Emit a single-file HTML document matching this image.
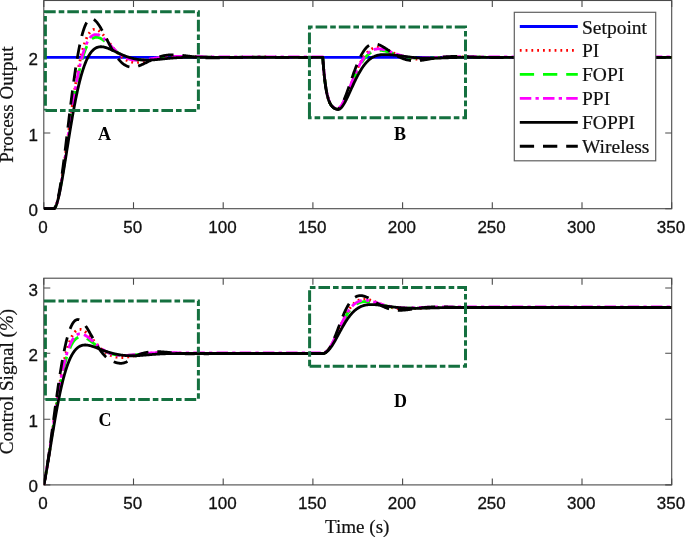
<!DOCTYPE html>
<html><head><meta charset="utf-8"><style>html,body{margin:0;padding:0;background:#fff}svg{display:block;will-change:transform}</style></head><body><svg width="685" height="537" viewBox="0 0 685 537">
<rect width="685" height="537" fill="#fff"/>
<style>.tk{font-family:"Liberation Sans",sans-serif;font-size:17px;fill:#111;stroke:#111;stroke-width:0.3px}.lb{font-family:"Liberation Serif",serif;font-size:19.1px;fill:#111;stroke:#111;stroke-width:0.2px}.lg{font-family:"Liberation Serif",serif;font-size:19.5px;fill:#111;stroke:#111;stroke-width:0.2px}.bb{font-family:"Liberation Serif",serif;font-size:18px;font-weight:bold;fill:#000}</style>
<rect x="43.8" y="0.5" width="627.9000000000001" height="208.2" fill="none" stroke="#4a4a4a" stroke-width="1.1"/>
<path d="M43.80,208.7 v-6.5 M43.80,0.5 v6.5" stroke="#4a4a4a" stroke-width="1.1" fill="none"/>
<text x="43.10" y="233.0" class="tk" text-anchor="middle">0</text>
<path d="M133.50,208.7 v-6.5 M133.50,0.5 v6.5" stroke="#4a4a4a" stroke-width="1.1" fill="none"/>
<text x="132.80" y="233.0" class="tk" text-anchor="middle">50</text>
<path d="M223.20,208.7 v-6.5 M223.20,0.5 v6.5" stroke="#4a4a4a" stroke-width="1.1" fill="none"/>
<text x="222.50" y="233.0" class="tk" text-anchor="middle">100</text>
<path d="M312.90,208.7 v-6.5 M312.90,0.5 v6.5" stroke="#4a4a4a" stroke-width="1.1" fill="none"/>
<text x="312.20" y="233.0" class="tk" text-anchor="middle">150</text>
<path d="M402.60,208.7 v-6.5 M402.60,0.5 v6.5" stroke="#4a4a4a" stroke-width="1.1" fill="none"/>
<text x="401.90" y="233.0" class="tk" text-anchor="middle">200</text>
<path d="M492.30,208.7 v-6.5 M492.30,0.5 v6.5" stroke="#4a4a4a" stroke-width="1.1" fill="none"/>
<text x="491.60" y="233.0" class="tk" text-anchor="middle">250</text>
<path d="M582.00,208.7 v-6.5 M582.00,0.5 v6.5" stroke="#4a4a4a" stroke-width="1.1" fill="none"/>
<text x="581.30" y="233.0" class="tk" text-anchor="middle">300</text>
<path d="M671.70,208.7 v-6.5 M671.70,0.5 v6.5" stroke="#4a4a4a" stroke-width="1.1" fill="none"/>
<text x="671.00" y="233.0" class="tk" text-anchor="middle">350</text>
<path d="M43.8,208.70 h6.5 M671.7,208.70 h-6.5" stroke="#4a4a4a" stroke-width="1.1" fill="none"/>
<text x="38.0" y="216.2" class="tk" text-anchor="end">0</text>
<path d="M43.8,133.00 h6.5 M671.7,133.00 h-6.5" stroke="#4a4a4a" stroke-width="1.1" fill="none"/>
<text x="38.0" y="140.5" class="tk" text-anchor="end">1</text>
<path d="M43.8,57.30 h6.5 M671.7,57.30 h-6.5" stroke="#4a4a4a" stroke-width="1.1" fill="none"/>
<text x="38.0" y="64.8" class="tk" text-anchor="end">2</text>
<rect x="43.8" y="278.2" width="627.9000000000001" height="206.7" fill="none" stroke="#4a4a4a" stroke-width="1.1"/>
<path d="M43.80,484.9 v-6.5 M43.80,278.2 v6.5" stroke="#4a4a4a" stroke-width="1.1" fill="none"/>
<text x="43.10" y="509.2" class="tk" text-anchor="middle">0</text>
<path d="M133.50,484.9 v-6.5 M133.50,278.2 v6.5" stroke="#4a4a4a" stroke-width="1.1" fill="none"/>
<text x="132.80" y="509.2" class="tk" text-anchor="middle">50</text>
<path d="M223.20,484.9 v-6.5 M223.20,278.2 v6.5" stroke="#4a4a4a" stroke-width="1.1" fill="none"/>
<text x="222.50" y="509.2" class="tk" text-anchor="middle">100</text>
<path d="M312.90,484.9 v-6.5 M312.90,278.2 v6.5" stroke="#4a4a4a" stroke-width="1.1" fill="none"/>
<text x="312.20" y="509.2" class="tk" text-anchor="middle">150</text>
<path d="M402.60,484.9 v-6.5 M402.60,278.2 v6.5" stroke="#4a4a4a" stroke-width="1.1" fill="none"/>
<text x="401.90" y="509.2" class="tk" text-anchor="middle">200</text>
<path d="M492.30,484.9 v-6.5 M492.30,278.2 v6.5" stroke="#4a4a4a" stroke-width="1.1" fill="none"/>
<text x="491.60" y="509.2" class="tk" text-anchor="middle">250</text>
<path d="M582.00,484.9 v-6.5 M582.00,278.2 v6.5" stroke="#4a4a4a" stroke-width="1.1" fill="none"/>
<text x="581.30" y="509.2" class="tk" text-anchor="middle">300</text>
<path d="M671.70,484.9 v-6.5 M671.70,278.2 v6.5" stroke="#4a4a4a" stroke-width="1.1" fill="none"/>
<text x="671.00" y="509.2" class="tk" text-anchor="middle">350</text>
<path d="M43.8,484.90 h6.5 M671.7,484.90 h-6.5" stroke="#4a4a4a" stroke-width="1.1" fill="none"/>
<text x="38.0" y="492.4" class="tk" text-anchor="end">0</text>
<path d="M43.8,419.20 h6.5 M671.7,419.20 h-6.5" stroke="#4a4a4a" stroke-width="1.1" fill="none"/>
<text x="38.0" y="426.7" class="tk" text-anchor="end">1</text>
<path d="M43.8,353.20 h6.5 M671.7,353.20 h-6.5" stroke="#4a4a4a" stroke-width="1.1" fill="none"/>
<text x="38.0" y="360.7" class="tk" text-anchor="end">2</text>
<path d="M43.8,288.00 h6.5 M671.7,288.00 h-6.5" stroke="#4a4a4a" stroke-width="1.1" fill="none"/>
<text x="38.0" y="295.5" class="tk" text-anchor="end">3</text>
<clipPath id="c1"><rect x="43.8" y="0.5" width="627.9000000000001" height="209.7"/></clipPath>
<clipPath id="c2"><rect x="43.8" y="278.2" width="627.9000000000001" height="208.2"/></clipPath>
<g clip-path="url(#c1)" fill="none" stroke-linejoin="round">
<path d="M43.80,57.30 H671.70" stroke="#0000ff" stroke-width="2.8"/>
<path d="M43.80,208.70 L44.25,208.70 L44.70,208.70 L45.15,208.70 L45.59,208.70 L46.04,208.70 L46.49,208.70 L46.94,208.70 L47.39,208.70 L47.84,208.70 L48.28,208.70 L48.73,208.70 L49.18,208.70 L49.63,208.70 L50.08,208.70 L50.53,208.70 L50.98,208.70 L51.42,208.70 L51.87,208.70 L52.32,208.70 L52.77,208.70 L53.22,208.70 L53.67,208.70 L54.12,208.59 L54.56,208.26 L55.01,207.71 L55.46,206.97 L55.91,206.03 L56.36,204.91 L56.81,203.61 L57.25,202.14 L57.70,200.50 L58.15,198.72 L58.60,196.79 L59.05,194.73 L59.50,192.54 L59.95,190.22 L60.39,187.80 L60.84,185.27 L61.29,182.64 L61.74,179.92 L62.19,177.12 L62.64,174.24 L63.09,171.29 L63.53,168.29 L63.98,165.22 L64.43,162.11 L64.88,158.95 L65.33,155.76 L65.78,152.54 L66.22,149.30 L66.67,146.03 L67.12,142.75 L67.57,139.47 L68.02,136.18 L68.47,132.89 L68.92,129.61 L69.36,126.34 L69.81,123.09 L70.26,119.86 L70.71,116.65 L71.16,113.47 L71.61,110.32 L72.06,107.21 L72.50,104.13 L72.95,101.10 L73.40,98.11 L73.85,95.17 L74.30,92.28 L74.75,89.44 L75.20,86.65 L75.64,83.93 L76.09,81.26 L76.54,78.65 L76.99,76.11 L77.44,73.63 L77.89,71.21 L78.33,68.86 L78.78,66.58 L79.23,64.37 L79.68,62.22 L80.13,60.15 L80.58,58.15 L81.03,56.22 L81.47,54.35 L81.92,52.56 L82.37,50.85 L82.82,49.20 L83.27,47.62 L83.72,46.12 L84.16,44.69 L84.61,43.32 L85.06,42.03 L85.51,40.80 L85.96,39.65 L86.41,38.56 L86.86,37.54 L87.30,36.58 L87.75,35.69 L88.20,34.86 L88.65,34.10 L89.10,33.40 L89.55,32.75 L90.00,32.17 L90.44,31.65 L90.89,31.18 L91.34,30.77 L91.79,30.41 L92.24,30.10 L92.69,29.85 L93.14,29.64 L93.58,29.49 L94.03,29.38 L94.48,29.31 L94.93,29.29 L95.38,29.31 L95.83,29.37 L96.27,29.47 L96.72,29.61 L97.17,29.78 L97.62,29.99 L98.07,30.23 L98.52,30.51 L98.97,30.81 L99.41,31.14 L99.86,31.49 L100.31,31.88 L100.76,32.28 L101.21,32.71 L101.66,33.16 L102.11,33.63 L102.55,34.11 L103.00,34.62 L103.45,35.13 L103.90,35.67 L104.35,36.21 L104.80,36.77 L105.24,37.33 L105.69,37.91 L106.14,38.49 L106.59,39.08 L107.04,39.68 L107.49,40.28 L107.94,40.88 L108.38,41.49 L108.83,42.10 L109.28,42.71 L109.73,43.32 L110.18,43.92 L110.63,44.53 L111.08,45.13 L111.52,45.73 L111.97,46.32 L112.42,46.91 L112.87,47.49 L113.32,48.07 L113.77,48.64 L114.21,49.20 L114.66,49.75 L115.11,50.29 L115.56,50.83 L116.01,51.35 L116.46,51.87 L116.91,52.37 L117.35,52.87 L117.80,53.35 L118.25,53.82 L118.70,54.28 L119.15,54.73 L119.60,55.16 L120.05,55.58 L120.49,55.99 L120.94,56.39 L121.39,56.77 L121.84,57.14 L122.29,57.50 L122.74,57.84 L123.18,58.18 L123.63,58.49 L124.08,58.80 L124.53,59.09 L124.98,59.37 L125.43,59.63 L125.88,59.89 L126.32,60.13 L126.77,60.35 L127.22,60.57 L127.67,60.77 L128.12,60.96 L128.57,61.13 L129.01,61.30 L129.46,61.45 L129.91,61.59 L130.36,61.72 L130.81,61.84 L131.26,61.95 L131.71,62.05 L132.15,62.13 L132.60,62.21 L133.05,62.27 L133.50,62.33 L133.95,62.38 L134.40,62.42 L134.85,62.45 L135.29,62.47 L135.74,62.48 L136.19,62.48 L136.64,62.48 L137.09,62.47 L137.54,62.45 L137.99,62.42 L138.43,62.39 L138.88,62.35 L139.33,62.31 L139.78,62.26 L140.23,62.20 L140.68,62.14 L141.12,62.07 L141.57,62.00 L142.02,61.93 L142.47,61.85 L142.92,61.77 L143.37,61.68 L143.82,61.59 L144.26,61.50 L144.71,61.40 L145.16,61.30 L145.61,61.20 L146.06,61.10 L146.51,60.99 L146.96,60.89 L147.40,60.78 L147.85,60.67 L148.30,60.56 L148.75,60.45 L149.20,60.34 L149.65,60.22 L150.09,60.11 L150.54,60.00 L150.99,59.89 L151.44,59.77 L151.89,59.66 L152.34,59.55 L152.79,59.44 L153.23,59.33 L153.68,59.22 L154.13,59.11 L154.58,59.01 L155.03,58.90 L155.48,58.80 L155.93,58.70 L156.37,58.60 L156.82,58.50 L157.27,58.40 L157.72,58.30 L158.17,58.21 L158.62,58.12 L159.06,58.03 L159.51,57.94 L159.96,57.86 L160.41,57.78 L160.86,57.70 L161.31,57.62 L161.76,57.54 L162.20,57.47 L162.65,57.40 L163.10,57.33 L163.55,57.26 L164.00,57.20 L164.45,57.14 L164.90,57.08 L165.34,57.02 L165.79,56.97 L166.24,56.92 L166.69,56.87 L167.14,56.82 L167.59,56.78 L168.03,56.74 L168.48,56.70 L168.93,56.66 L169.38,56.62 L169.83,56.59 L170.28,56.56 L170.73,56.53 L171.17,56.51 L171.62,56.48 L172.07,56.46 L172.52,56.44 L172.97,56.42 L173.42,56.41 L173.87,56.39 L174.31,56.38 L174.76,56.37 L175.21,56.36 L175.66,56.35 L176.11,56.35 L176.56,56.34 L177.00,56.34 L177.45,56.34 L177.90,56.34 L178.35,56.34 L178.80,56.35 L179.25,56.35 L179.70,56.36 L180.14,56.37 L180.59,56.37 L181.04,56.38 L181.49,56.39 L181.94,56.40 L182.39,56.42 L182.84,56.43 L183.28,56.44 L183.73,56.46 L184.18,56.47 L184.63,56.49 L185.08,56.51 L185.53,56.52 L185.97,56.54 L186.42,56.56 L186.87,56.58 L187.32,56.60 L187.77,56.62 L188.22,56.64 L188.67,56.66 L189.11,56.68 L189.56,56.70 L190.01,56.72 L190.46,56.74 L190.91,56.76 L191.36,56.78 L191.81,56.80 L192.25,56.82 L192.70,56.84 L193.15,56.86 L193.60,56.88 L194.05,56.90 L194.50,56.92 L194.94,56.94 L195.39,56.96 L195.84,56.98 L196.29,57.00 L196.74,57.02 L197.19,57.04 L197.64,57.06 L198.08,57.08 L198.53,57.10 L198.98,57.11 L199.43,57.13 L199.88,57.15 L200.33,57.16 L200.78,57.18 L201.22,57.20 L201.67,57.21 L202.12,57.23 L202.57,57.24 L203.02,57.26 L203.47,57.27 L203.91,57.28 L204.36,57.29 L204.81,57.31 L205.26,57.32 L205.71,57.33 L206.16,57.34 L206.61,57.35 L207.05,57.36 L207.50,57.37 L207.95,57.38 L208.40,57.39 L208.85,57.40 L209.30,57.40 L209.75,57.41 L210.19,57.42 L210.64,57.43 L211.09,57.43 L211.54,57.44 L211.99,57.44 L212.44,57.45 L212.88,57.45 L213.33,57.46 L213.78,57.46 L214.23,57.46 L214.68,57.47 L215.13,57.47 L215.58,57.47 L216.02,57.47 L216.47,57.47 L216.92,57.48 L217.37,57.48 L217.82,57.48 L218.27,57.48 L218.72,57.48 L219.16,57.48 L219.61,57.48 L220.06,57.48 L220.51,57.48 L220.96,57.47 L221.41,57.47 L221.85,57.47 L222.30,57.47 L222.75,57.47 L223.20,57.47 L226.79,57.44 L230.38,57.42 L233.96,57.38 L237.55,57.35 L241.14,57.33 L244.73,57.31 L248.32,57.29 L251.90,57.28 L255.49,57.27 L259.08,57.27 L262.67,57.27 L266.26,57.27 L269.84,57.28 L273.43,57.28 L277.02,57.29 L280.61,57.29 L284.20,57.30 L287.78,57.30 L291.37,57.30 L294.96,57.31 L298.55,57.31 L302.14,57.31 L305.72,57.31 L309.31,57.30 L312.90,57.30 L316.49,57.30 L320.08,57.30 L320.52,57.30 L320.97,57.30 L321.42,57.30 L321.87,57.30 L322.32,57.30 L322.77,57.30 L323.22,63.53 L323.66,69.02 L324.11,73.87 L324.56,78.15 L325.01,81.93 L325.46,85.26 L325.91,88.20 L326.36,90.80 L326.80,93.09 L327.25,95.11 L327.70,96.89 L328.15,98.47 L328.60,99.86 L329.05,101.08 L329.49,102.16 L329.94,103.12 L330.39,103.96 L330.84,104.70 L331.29,105.36 L331.74,105.94 L332.19,106.45 L332.63,106.90 L333.08,107.30 L333.53,107.65 L333.98,107.96 L334.43,108.23 L334.88,108.48 L335.33,108.69 L335.77,108.88 L336.22,109.04 L336.67,109.18 L337.12,109.22 L337.57,109.17 L338.02,109.04 L338.46,108.83 L338.91,108.54 L339.36,108.18 L339.81,107.75 L340.26,107.25 L340.71,106.70 L341.16,106.08 L341.60,105.42 L342.05,104.70 L342.50,103.93 L342.95,103.13 L343.40,102.28 L343.85,101.39 L344.30,100.47 L344.74,99.51 L345.19,98.53 L345.64,97.52 L346.09,96.49 L346.54,95.43 L346.99,94.36 L347.43,93.27 L347.88,92.16 L348.33,91.04 L348.78,89.92 L349.23,88.78 L349.68,87.64 L350.13,86.49 L350.57,85.34 L351.02,84.20 L351.47,83.05 L351.92,81.91 L352.37,80.77 L352.82,79.63 L353.27,78.51 L353.71,77.39 L354.16,76.29 L354.61,75.19 L355.06,74.11 L355.51,73.05 L355.96,71.99 L356.40,70.96 L356.85,69.94 L357.30,68.94 L357.75,67.96 L358.20,67.00 L358.65,66.05 L359.10,65.13 L359.54,64.23 L359.99,63.36 L360.44,62.50 L360.89,61.67 L361.34,60.86 L361.79,60.08 L362.24,59.32 L362.68,58.58 L363.13,57.87 L363.58,57.19 L364.03,56.53 L364.48,55.89 L364.93,55.28 L365.37,54.69 L365.82,54.13 L366.27,53.59 L366.72,53.08 L367.17,52.60 L367.62,52.13 L368.07,51.69 L368.51,51.28 L368.96,50.89 L369.41,50.52 L369.86,50.18 L370.31,49.86 L370.76,49.56 L371.21,49.28 L371.65,49.03 L372.10,48.80 L372.55,48.58 L373.00,48.39 L373.45,48.22 L373.90,48.07 L374.34,47.94 L374.79,47.82 L375.24,47.73 L375.69,47.65 L376.14,47.59 L376.59,47.54 L377.04,47.51 L377.48,47.50 L377.93,47.50 L378.38,47.52 L378.83,47.55 L379.28,47.59 L379.73,47.64 L380.18,47.71 L380.62,47.79 L381.07,47.88 L381.52,47.98 L381.97,48.10 L382.42,48.22 L382.87,48.35 L383.31,48.49 L383.76,48.63 L384.21,48.79 L384.66,48.95 L385.11,49.12 L385.56,49.29 L386.01,49.47 L386.45,49.65 L386.90,49.84 L387.35,50.04 L387.80,50.23 L388.25,50.43 L388.70,50.64 L389.15,50.84 L389.59,51.05 L390.04,51.26 L390.49,51.47 L390.94,51.68 L391.39,51.89 L391.84,52.11 L392.28,52.32 L392.73,52.53 L393.18,52.75 L393.63,52.96 L394.08,53.17 L394.53,53.37 L394.98,53.58 L395.42,53.79 L395.87,53.99 L396.32,54.19 L396.77,54.39 L397.22,54.58 L397.67,54.77 L398.12,54.96 L398.56,55.15 L399.01,55.33 L399.46,55.51 L399.91,55.68 L400.36,55.85 L400.81,56.02 L401.25,56.18 L401.70,56.34 L402.15,56.49 L402.60,56.64 L403.05,56.79 L403.50,56.93 L403.95,57.06 L404.39,57.19 L404.84,57.32 L405.29,57.44 L405.74,57.56 L406.19,57.67 L406.64,57.78 L407.09,57.89 L407.53,57.99 L407.98,58.08 L408.43,58.17 L408.88,58.26 L409.33,58.34 L409.78,58.41 L410.22,58.49 L410.67,58.55 L411.12,58.62 L411.57,58.68 L412.02,58.73 L412.47,58.78 L412.92,58.83 L413.36,58.87 L413.81,58.91 L414.26,58.95 L414.71,58.98 L415.16,59.01 L415.61,59.03 L416.06,59.05 L416.50,59.07 L416.95,59.09 L417.40,59.10 L417.85,59.11 L418.30,59.11 L418.75,59.11 L419.19,59.11 L419.64,59.11 L420.09,59.10 L420.54,59.10 L420.99,59.09 L421.44,59.07 L421.89,59.06 L422.33,59.04 L422.78,59.02 L423.23,59.00 L423.68,58.98 L424.13,58.96 L424.58,58.93 L425.03,58.90 L425.47,58.87 L425.92,58.85 L426.37,58.81 L426.82,58.78 L427.27,58.75 L427.72,58.71 L428.16,58.68 L428.61,58.64 L429.06,58.61 L429.51,58.57 L429.96,58.53 L430.41,58.49 L430.86,58.46 L431.30,58.42 L431.75,58.38 L432.20,58.34 L432.65,58.30 L433.10,58.26 L433.55,58.22 L434.00,58.18 L434.44,58.14 L434.89,58.10 L435.34,58.06 L435.79,58.03 L436.24,57.99 L436.69,57.95 L437.13,57.91 L437.58,57.88 L438.03,57.84 L438.48,57.80 L438.93,57.77 L439.38,57.73 L439.83,57.70 L440.27,57.66 L440.72,57.63 L441.17,57.60 L441.62,57.57 L442.07,57.54 L442.52,57.51 L442.97,57.48 L443.41,57.45 L443.86,57.42 L444.31,57.40 L444.76,57.37 L445.21,57.34 L445.66,57.32 L446.10,57.30 L446.55,57.27 L447.00,57.25 L447.45,57.23 L447.90,57.21 L448.35,57.19 L448.80,57.17 L449.24,57.16 L449.69,57.14 L450.14,57.12 L450.59,57.11 L451.04,57.09 L451.49,57.08 L451.94,57.07 L452.38,57.06 L452.83,57.05 L453.28,57.04 L453.73,57.03 L454.18,57.02 L454.63,57.01 L455.07,57.00 L455.52,57.00 L455.97,56.99 L456.42,56.98 L456.87,56.98 L457.32,56.98 L457.77,56.97 L458.21,56.97 L458.66,56.97 L459.11,56.97 L459.56,56.96 L460.01,56.96 L460.46,56.96 L460.91,56.97 L461.35,56.97 L461.80,56.97 L462.25,56.97 L462.70,56.97 L463.15,56.97 L463.60,56.98 L464.04,56.98 L464.49,56.98 L464.94,56.99 L465.39,56.99 L465.84,57.00 L466.29,57.00 L466.74,57.01 L467.18,57.01 L467.63,57.02 L468.08,57.03 L468.53,57.03 L468.98,57.04 L469.43,57.04 L469.88,57.05 L470.32,57.06 L470.77,57.06 L471.22,57.07 L471.67,57.08 L472.12,57.09 L472.57,57.09 L473.01,57.10 L473.46,57.11 L473.91,57.12 L474.36,57.12 L483.33,57.26 L492.30,57.34 L501.27,57.36 L510.24,57.35 L519.21,57.32 L528.18,57.30 L537.15,57.29 L546.12,57.29 L555.09,57.29 L564.06,57.30 L573.03,57.30 L582.00,57.30 L590.97,57.30 L599.94,57.30 L608.91,57.30 L617.88,57.30 L626.85,57.30 L635.82,57.30 L644.79,57.30 L653.76,57.30 L662.73,57.30 L671.70,57.30" stroke="#ff0000" stroke-width="2.8" stroke-dasharray="1.8 4" stroke-dashoffset="2"/>
<path d="M43.80,208.70 L44.25,208.70 L44.70,208.70 L45.15,208.70 L45.59,208.70 L46.04,208.70 L46.49,208.70 L46.94,208.70 L47.39,208.70 L47.84,208.70 L48.28,208.70 L48.73,208.70 L49.18,208.70 L49.63,208.70 L50.08,208.70 L50.53,208.70 L50.98,208.70 L51.42,208.70 L51.87,208.70 L52.32,208.70 L52.77,208.70 L53.22,208.70 L53.67,208.70 L54.12,208.59 L54.56,208.25 L55.01,207.70 L55.46,206.94 L55.91,205.99 L56.36,204.86 L56.81,203.55 L57.25,202.07 L57.70,200.44 L58.15,198.66 L58.60,196.74 L59.05,194.69 L59.50,192.52 L59.95,190.23 L60.39,187.84 L60.84,185.35 L61.29,182.78 L61.74,180.12 L62.19,177.38 L62.64,174.58 L63.09,171.72 L63.53,168.81 L63.98,165.84 L64.43,162.84 L64.88,159.80 L65.33,156.74 L65.78,153.65 L66.22,150.55 L66.67,147.43 L67.12,144.31 L67.57,141.19 L68.02,138.07 L68.47,134.95 L68.92,131.85 L69.36,128.77 L69.81,125.71 L70.26,122.67 L70.71,119.66 L71.16,116.68 L71.61,113.73 L72.06,110.82 L72.50,107.96 L72.95,105.13 L73.40,102.35 L73.85,99.62 L74.30,96.94 L74.75,94.31 L75.20,91.73 L75.64,89.21 L76.09,86.75 L76.54,84.34 L76.99,81.99 L77.44,79.70 L77.89,77.48 L78.33,75.31 L78.78,73.21 L79.23,71.18 L79.68,69.20 L80.13,67.29 L80.58,65.45 L81.03,63.67 L81.47,61.95 L81.92,60.30 L82.37,58.71 L82.82,57.19 L83.27,55.73 L83.72,54.33 L84.16,52.99 L84.61,51.72 L85.06,50.51 L85.51,49.36 L85.96,48.27 L86.41,47.24 L86.86,46.26 L87.30,45.34 L87.75,44.48 L88.20,43.68 L88.65,42.93 L89.10,42.23 L89.55,41.58 L90.00,40.98 L90.44,40.44 L90.89,39.94 L91.34,39.49 L91.79,39.08 L92.24,38.72 L92.69,38.40 L93.14,38.12 L93.58,37.89 L94.03,37.69 L94.48,37.53 L94.93,37.40 L95.38,37.32 L95.83,37.26 L96.27,37.24 L96.72,37.25 L97.17,37.29 L97.62,37.36 L98.07,37.45 L98.52,37.57 L98.97,37.72 L99.41,37.89 L99.86,38.08 L100.31,38.29 L100.76,38.52 L101.21,38.77 L101.66,39.04 L102.11,39.32 L102.55,39.62 L103.00,39.94 L103.45,40.27 L103.90,40.61 L104.35,40.96 L104.80,41.32 L105.24,41.69 L105.69,42.06 L106.14,42.45 L106.59,42.84 L107.04,43.24 L107.49,43.64 L107.94,44.04 L108.38,44.45 L108.83,44.86 L109.28,45.27 L109.73,45.69 L110.18,46.10 L110.63,46.52 L111.08,46.93 L111.52,47.34 L111.97,47.75 L112.42,48.16 L112.87,48.56 L113.32,48.96 L113.77,49.35 L114.21,49.74 L114.66,50.13 L115.11,50.51 L115.56,50.89 L116.01,51.26 L116.46,51.62 L116.91,51.98 L117.35,52.33 L117.80,52.67 L118.25,53.01 L118.70,53.33 L119.15,53.65 L119.60,53.97 L120.05,54.27 L120.49,54.57 L120.94,54.86 L121.39,55.14 L121.84,55.41 L122.29,55.67 L122.74,55.93 L123.18,56.17 L123.63,56.41 L124.08,56.64 L124.53,56.86 L124.98,57.07 L125.43,57.28 L125.88,57.47 L126.32,57.66 L126.77,57.84 L127.22,58.01 L127.67,58.17 L128.12,58.32 L128.57,58.47 L129.01,58.61 L129.46,58.74 L129.91,58.86 L130.36,58.98 L130.81,59.08 L131.26,59.19 L131.71,59.28 L132.15,59.37 L132.60,59.45 L133.05,59.52 L133.50,59.59 L133.95,59.65 L134.40,59.70 L134.85,59.75 L135.29,59.80 L135.74,59.83 L136.19,59.87 L136.64,59.89 L137.09,59.92 L137.54,59.93 L137.99,59.95 L138.43,59.95 L138.88,59.96 L139.33,59.96 L139.78,59.95 L140.23,59.94 L140.68,59.93 L141.12,59.92 L141.57,59.90 L142.02,59.88 L142.47,59.85 L142.92,59.82 L143.37,59.79 L143.82,59.76 L144.26,59.73 L144.71,59.69 L145.16,59.65 L145.61,59.61 L146.06,59.57 L146.51,59.52 L146.96,59.48 L147.40,59.43 L147.85,59.38 L148.30,59.33 L148.75,59.28 L149.20,59.23 L149.65,59.17 L150.09,59.12 L150.54,59.07 L150.99,59.01 L151.44,58.96 L151.89,58.90 L152.34,58.85 L152.79,58.79 L153.23,58.74 L153.68,58.69 L154.13,58.63 L154.58,58.58 L155.03,58.52 L155.48,58.47 L155.93,58.42 L156.37,58.36 L156.82,58.31 L157.27,58.26 L157.72,58.21 L158.17,58.16 L158.62,58.11 L159.06,58.06 L159.51,58.01 L159.96,57.97 L160.41,57.92 L160.86,57.88 L161.31,57.83 L161.76,57.79 L162.20,57.75 L162.65,57.71 L163.10,57.67 L163.55,57.63 L164.00,57.59 L164.45,57.56 L164.90,57.52 L165.34,57.49 L165.79,57.46 L166.24,57.42 L166.69,57.39 L167.14,57.36 L167.59,57.34 L168.03,57.31 L168.48,57.28 L168.93,57.26 L169.38,57.23 L169.83,57.21 L170.28,57.19 L170.73,57.17 L171.17,57.15 L171.62,57.13 L172.07,57.11 L172.52,57.10 L172.97,57.08 L173.42,57.07 L173.87,57.05 L174.31,57.04 L174.76,57.03 L175.21,57.02 L175.66,57.01 L176.11,57.00 L176.56,56.99 L177.00,56.98 L177.45,56.98 L177.90,56.97 L178.35,56.97 L178.80,56.96 L179.25,56.96 L179.70,56.95 L180.14,56.95 L180.59,56.95 L181.04,56.95 L181.49,56.95 L181.94,56.95 L182.39,56.95 L182.84,56.95 L183.28,56.95 L183.73,56.95 L184.18,56.96 L184.63,56.96 L185.08,56.96 L185.53,56.96 L185.97,56.97 L186.42,56.97 L186.87,56.98 L187.32,56.98 L187.77,56.99 L188.22,56.99 L188.67,57.00 L189.11,57.00 L189.56,57.01 L190.01,57.02 L190.46,57.02 L190.91,57.03 L191.36,57.04 L191.81,57.04 L192.25,57.05 L192.70,57.06 L193.15,57.06 L193.60,57.07 L194.05,57.08 L194.50,57.09 L194.94,57.09 L195.39,57.10 L195.84,57.11 L196.29,57.12 L196.74,57.12 L197.19,57.13 L197.64,57.14 L198.08,57.14 L198.53,57.15 L198.98,57.16 L199.43,57.16 L199.88,57.17 L200.33,57.18 L200.78,57.18 L201.22,57.19 L201.67,57.20 L202.12,57.20 L202.57,57.21 L203.02,57.22 L203.47,57.22 L203.91,57.23 L204.36,57.23 L204.81,57.24 L205.26,57.24 L205.71,57.25 L206.16,57.26 L206.61,57.26 L207.05,57.26 L207.50,57.27 L207.95,57.27 L208.40,57.28 L208.85,57.28 L209.30,57.29 L209.75,57.29 L210.19,57.29 L210.64,57.30 L211.09,57.30 L211.54,57.30 L211.99,57.31 L212.44,57.31 L212.88,57.31 L213.33,57.32 L213.78,57.32 L214.23,57.32 L214.68,57.32 L215.13,57.33 L215.58,57.33 L216.02,57.33 L216.47,57.33 L216.92,57.33 L217.37,57.34 L217.82,57.34 L218.27,57.34 L218.72,57.34 L219.16,57.34 L219.61,57.34 L220.06,57.34 L220.51,57.34 L220.96,57.34 L221.41,57.34 L221.85,57.35 L222.30,57.35 L222.75,57.35 L223.20,57.35 L226.79,57.35 L230.38,57.34 L233.96,57.34 L237.55,57.33 L241.14,57.32 L244.73,57.31 L248.32,57.31 L251.90,57.30 L255.49,57.30 L259.08,57.30 L262.67,57.29 L266.26,57.29 L269.84,57.29 L273.43,57.29 L277.02,57.30 L280.61,57.30 L284.20,57.30 L287.78,57.30 L291.37,57.30 L294.96,57.30 L298.55,57.30 L302.14,57.30 L305.72,57.30 L309.31,57.30 L312.90,57.30 L316.49,57.30 L320.08,57.30 L320.52,57.30 L320.97,57.30 L321.42,57.30 L321.87,57.30 L322.32,57.30 L322.77,57.30 L323.22,63.53 L323.66,69.02 L324.11,73.87 L324.56,78.15 L325.01,81.93 L325.46,85.26 L325.91,88.20 L326.36,90.80 L326.80,93.09 L327.25,95.11 L327.70,96.89 L328.15,98.47 L328.60,99.86 L329.05,101.08 L329.49,102.16 L329.94,103.12 L330.39,103.96 L330.84,104.71 L331.29,105.36 L331.74,105.94 L332.19,106.45 L332.63,106.90 L333.08,107.30 L333.53,107.65 L333.98,107.96 L334.43,108.24 L334.88,108.48 L335.33,108.69 L335.77,108.88 L336.22,109.04 L336.67,109.18 L337.12,109.22 L337.57,109.17 L338.02,109.03 L338.46,108.82 L338.91,108.52 L339.36,108.16 L339.81,107.72 L340.26,107.23 L340.71,106.67 L341.16,106.06 L341.60,105.40 L342.05,104.69 L342.50,103.93 L342.95,103.14 L343.40,102.30 L343.85,101.43 L344.30,100.53 L344.74,99.60 L345.19,98.64 L345.64,97.66 L346.09,96.66 L346.54,95.64 L346.99,94.60 L347.43,93.55 L347.88,92.49 L348.33,91.41 L348.78,90.33 L349.23,89.25 L349.68,88.16 L350.13,87.07 L350.57,85.98 L351.02,84.89 L351.47,83.81 L351.92,82.73 L352.37,81.66 L352.82,80.59 L353.27,79.53 L353.71,78.49 L354.16,77.45 L354.61,76.43 L355.06,75.42 L355.51,74.43 L355.96,73.45 L356.40,72.49 L356.85,71.54 L357.30,70.62 L357.75,69.71 L358.20,68.82 L358.65,67.95 L359.10,67.10 L359.54,66.27 L359.99,65.46 L360.44,64.67 L360.89,63.90 L361.34,63.16 L361.79,62.44 L362.24,61.74 L362.68,61.06 L363.13,60.41 L363.58,59.77 L364.03,59.16 L364.48,58.58 L364.93,58.01 L365.37,57.47 L365.82,56.95 L366.27,56.45 L366.72,55.98 L367.17,55.52 L367.62,55.09 L368.07,54.68 L368.51,54.29 L368.96,53.92 L369.41,53.57 L369.86,53.24 L370.31,52.93 L370.76,52.64 L371.21,52.37 L371.65,52.12 L372.10,51.89 L372.55,51.67 L373.00,51.47 L373.45,51.29 L373.90,51.13 L374.34,50.98 L374.79,50.85 L375.24,50.73 L375.69,50.62 L376.14,50.54 L376.59,50.46 L377.04,50.40 L377.48,50.35 L377.93,50.32 L378.38,50.29 L378.83,50.28 L379.28,50.28 L379.73,50.29 L380.18,50.31 L380.62,50.34 L381.07,50.38 L381.52,50.42 L381.97,50.48 L382.42,50.54 L382.87,50.62 L383.31,50.69 L383.76,50.78 L384.21,50.87 L384.66,50.97 L385.11,51.07 L385.56,51.18 L386.01,51.29 L386.45,51.41 L386.90,51.53 L387.35,51.65 L387.80,51.78 L388.25,51.91 L388.70,52.05 L389.15,52.18 L389.59,52.32 L390.04,52.46 L390.49,52.60 L390.94,52.75 L391.39,52.89 L391.84,53.03 L392.28,53.18 L392.73,53.32 L393.18,53.47 L393.63,53.61 L394.08,53.76 L394.53,53.90 L394.98,54.04 L395.42,54.18 L395.87,54.32 L396.32,54.46 L396.77,54.60 L397.22,54.74 L397.67,54.87 L398.12,55.00 L398.56,55.13 L399.01,55.26 L399.46,55.39 L399.91,55.51 L400.36,55.63 L400.81,55.75 L401.25,55.87 L401.70,55.98 L402.15,56.09 L402.60,56.20 L403.05,56.30 L403.50,56.40 L403.95,56.50 L404.39,56.60 L404.84,56.69 L405.29,56.78 L405.74,56.87 L406.19,56.96 L406.64,57.04 L407.09,57.12 L407.53,57.19 L407.98,57.26 L408.43,57.33 L408.88,57.40 L409.33,57.46 L409.78,57.52 L410.22,57.58 L410.67,57.64 L411.12,57.69 L411.57,57.74 L412.02,57.79 L412.47,57.83 L412.92,57.87 L413.36,57.91 L413.81,57.95 L414.26,57.98 L414.71,58.01 L415.16,58.04 L415.61,58.07 L416.06,58.09 L416.50,58.11 L416.95,58.13 L417.40,58.15 L417.85,58.17 L418.30,58.18 L418.75,58.19 L419.19,58.20 L419.64,58.21 L420.09,58.22 L420.54,58.22 L420.99,58.23 L421.44,58.23 L421.89,58.23 L422.33,58.23 L422.78,58.23 L423.23,58.22 L423.68,58.22 L424.13,58.21 L424.58,58.21 L425.03,58.20 L425.47,58.19 L425.92,58.18 L426.37,58.17 L426.82,58.15 L427.27,58.14 L427.72,58.13 L428.16,58.11 L428.61,58.10 L429.06,58.08 L429.51,58.07 L429.96,58.05 L430.41,58.03 L430.86,58.02 L431.30,58.00 L431.75,57.98 L432.20,57.96 L432.65,57.94 L433.10,57.93 L433.55,57.91 L434.00,57.89 L434.44,57.87 L434.89,57.85 L435.34,57.83 L435.79,57.81 L436.24,57.79 L436.69,57.77 L437.13,57.75 L437.58,57.74 L438.03,57.72 L438.48,57.70 L438.93,57.68 L439.38,57.66 L439.83,57.64 L440.27,57.63 L440.72,57.61 L441.17,57.59 L441.62,57.57 L442.07,57.56 L442.52,57.54 L442.97,57.52 L443.41,57.51 L443.86,57.49 L444.31,57.48 L444.76,57.46 L445.21,57.45 L445.66,57.43 L446.10,57.42 L446.55,57.41 L447.00,57.40 L447.45,57.38 L447.90,57.37 L448.35,57.36 L448.80,57.35 L449.24,57.34 L449.69,57.33 L450.14,57.32 L450.59,57.31 L451.04,57.30 L451.49,57.29 L451.94,57.28 L452.38,57.27 L452.83,57.26 L453.28,57.26 L453.73,57.25 L454.18,57.24 L454.63,57.24 L455.07,57.23 L455.52,57.23 L455.97,57.22 L456.42,57.22 L456.87,57.21 L457.32,57.21 L457.77,57.20 L458.21,57.20 L458.66,57.20 L459.11,57.19 L459.56,57.19 L460.01,57.19 L460.46,57.19 L460.91,57.18 L461.35,57.18 L461.80,57.18 L462.25,57.18 L462.70,57.18 L463.15,57.18 L463.60,57.18 L464.04,57.18 L464.49,57.18 L464.94,57.18 L465.39,57.18 L465.84,57.18 L466.29,57.18 L466.74,57.18 L467.18,57.18 L467.63,57.18 L468.08,57.18 L468.53,57.18 L468.98,57.18 L469.43,57.19 L469.88,57.19 L470.32,57.19 L470.77,57.19 L471.22,57.19 L471.67,57.20 L472.12,57.20 L472.57,57.20 L473.01,57.20 L473.46,57.20 L473.91,57.21 L474.36,57.21 L483.33,57.26 L492.30,57.30 L501.27,57.31 L510.24,57.32 L519.21,57.31 L528.18,57.30 L537.15,57.30 L546.12,57.30 L555.09,57.30 L564.06,57.30 L573.03,57.30 L582.00,57.30 L590.97,57.30 L599.94,57.30 L608.91,57.30 L617.88,57.30 L626.85,57.30 L635.82,57.30 L644.79,57.30 L653.76,57.30 L662.73,57.30 L671.70,57.30" stroke="#00ff00" stroke-width="2.8" stroke-dasharray="14.3 8.9" stroke-dashoffset="0"/>
<path d="M43.80,208.70 L44.25,208.70 L44.70,208.70 L45.15,208.70 L45.59,208.70 L46.04,208.70 L46.49,208.70 L46.94,208.70 L47.39,208.70 L47.84,208.70 L48.28,208.70 L48.73,208.70 L49.18,208.70 L49.63,208.70 L50.08,208.70 L50.53,208.70 L50.98,208.70 L51.42,208.70 L51.87,208.70 L52.32,208.70 L52.77,208.70 L53.22,208.70 L53.67,208.70 L54.12,208.59 L54.56,208.25 L55.01,207.69 L55.46,206.94 L55.91,205.99 L56.36,204.85 L56.81,203.53 L57.25,202.05 L57.70,200.41 L58.15,198.61 L58.60,196.68 L59.05,194.61 L59.50,192.42 L59.95,190.11 L60.39,187.69 L60.84,185.18 L61.29,182.57 L61.74,179.87 L62.19,177.10 L62.64,174.26 L63.09,171.35 L63.53,168.39 L63.98,165.37 L64.43,162.32 L64.88,159.23 L65.33,156.10 L65.78,152.96 L66.22,149.79 L66.67,146.61 L67.12,143.42 L67.57,140.23 L68.02,137.04 L68.47,133.86 L68.92,130.68 L69.36,127.53 L69.81,124.39 L70.26,121.28 L70.71,118.19 L71.16,115.14 L71.61,112.12 L72.06,109.13 L72.50,106.19 L72.95,103.29 L73.40,100.44 L73.85,97.63 L74.30,94.88 L74.75,92.17 L75.20,89.53 L75.64,86.94 L76.09,84.40 L76.54,81.93 L76.99,79.52 L77.44,77.17 L77.89,74.88 L78.33,72.66 L78.78,70.51 L79.23,68.42 L79.68,66.39 L80.13,64.43 L80.58,62.54 L81.03,60.72 L81.47,58.97 L81.92,57.28 L82.37,55.65 L82.82,54.10 L83.27,52.61 L83.72,51.19 L84.16,49.83 L84.61,48.54 L85.06,47.32 L85.51,46.15 L85.96,45.05 L86.41,44.02 L86.86,43.04 L87.30,42.12 L87.75,41.27 L88.20,40.47 L88.65,39.73 L89.10,39.04 L89.55,38.41 L90.00,37.83 L90.44,37.31 L90.89,36.83 L91.34,36.41 L91.79,36.03 L92.24,35.70 L92.69,35.42 L93.14,35.18 L93.58,34.98 L94.03,34.83 L94.48,34.71 L94.93,34.64 L95.38,34.60 L95.83,34.59 L96.27,34.62 L96.72,34.69 L97.17,34.78 L97.62,34.91 L98.07,34.61 L98.52,34.79 L98.97,35.00 L99.41,35.23 L99.86,35.48 L100.31,35.76 L100.76,36.06 L101.21,36.38 L101.66,36.71 L102.11,37.07 L102.55,37.44 L103.00,37.82 L103.45,38.22 L103.90,38.63 L104.35,39.05 L104.80,39.48 L105.24,39.92 L105.69,40.36 L106.14,40.82 L106.59,41.28 L107.04,41.74 L107.49,42.21 L107.94,42.69 L108.38,43.16 L108.83,43.64 L109.28,44.12 L109.73,44.60 L110.18,45.08 L110.63,45.55 L111.08,46.03 L111.52,46.50 L111.97,46.97 L112.42,47.43 L112.87,47.90 L113.32,48.35 L113.77,48.80 L114.21,49.25 L114.66,49.69 L115.11,50.12 L115.56,50.54 L116.01,50.96 L116.46,51.37 L116.91,51.77 L117.35,52.17 L117.80,52.55 L118.25,52.93 L118.70,53.30 L119.15,53.65 L119.60,54.00 L120.05,54.34 L120.49,54.67 L120.94,54.99 L121.39,55.30 L121.84,55.60 L122.29,55.89 L122.74,56.17 L123.18,56.44 L123.63,56.70 L124.08,56.95 L124.53,57.19 L124.98,57.42 L125.43,57.64 L125.88,57.84 L126.32,58.04 L126.77,58.23 L127.22,58.41 L127.67,58.58 L128.12,58.75 L128.57,58.90 L129.01,59.04 L129.46,59.17 L129.91,59.30 L130.36,59.42 L130.81,59.52 L131.26,59.62 L131.71,59.72 L132.15,59.80 L132.60,59.87 L133.05,59.94 L133.50,60.00 L133.95,60.06 L134.40,60.10 L134.85,60.14 L135.29,60.18 L135.74,60.20 L136.19,60.22 L136.64,60.24 L137.09,60.25 L137.54,60.25 L137.99,60.25 L138.43,60.24 L138.88,60.23 L139.33,60.22 L139.78,60.20 L140.23,60.17 L140.68,60.14 L141.12,60.11 L141.57,60.07 L142.02,60.03 L142.47,59.99 L142.92,59.94 L143.37,59.90 L143.82,59.84 L144.26,59.79 L144.71,59.73 L145.16,59.68 L145.61,59.62 L146.06,59.55 L146.51,59.49 L146.96,59.43 L147.40,59.36 L147.85,59.29 L148.30,59.22 L148.75,59.15 L149.20,59.08 L149.65,59.01 L150.09,58.94 L150.54,58.87 L150.99,58.80 L151.44,58.73 L151.89,58.65 L152.34,58.58 L152.79,58.51 L153.23,58.44 L153.68,58.37 L154.13,58.30 L154.58,58.23 L155.03,58.16 L155.48,58.09 L155.93,58.03 L156.37,57.96 L156.82,57.89 L157.27,57.83 L157.72,57.77 L158.17,57.70 L158.62,57.64 L159.06,57.58 L159.51,57.52 L159.96,57.47 L160.41,57.41 L160.86,57.36 L161.31,57.30 L161.76,57.25 L162.20,57.20 L162.65,57.15 L163.10,57.11 L163.55,57.06 L164.00,57.02 L164.45,56.97 L164.90,56.93 L165.34,56.89 L165.79,56.85 L166.24,56.82 L166.69,56.78 L167.14,56.75 L167.59,56.71 L168.03,56.68 L168.48,56.65 L168.93,56.63 L169.38,56.60 L169.83,56.58 L170.28,56.55 L170.73,56.53 L171.17,56.51 L171.62,56.49 L172.07,56.47 L172.52,56.45 L172.97,56.44 L173.42,56.42 L173.87,56.41 L174.31,56.40 L174.76,56.39 L175.21,56.38 L175.66,56.37 L176.11,56.36 L176.56,56.35 L177.00,56.35 L177.45,56.34 L177.90,56.34 L178.35,56.34 L178.80,56.34 L179.25,56.34 L179.70,56.33 L180.14,56.34 L180.59,56.34 L181.04,56.34 L181.49,56.34 L181.94,56.34 L182.39,56.35 L182.84,56.35 L183.28,56.36 L183.73,56.36 L184.18,56.37 L184.63,56.38 L185.08,56.38 L185.53,56.39 L185.97,56.40 L186.42,56.41 L186.87,56.42 L187.32,56.42 L187.77,56.43 L188.22,56.44 L188.67,56.45 L189.11,56.46 L189.56,56.47 L190.01,56.48 L190.46,56.49 L190.91,56.50 L191.36,56.51 L191.81,56.53 L192.25,56.54 L192.70,56.55 L193.15,56.56 L193.60,56.57 L194.05,56.58 L194.50,56.59 L194.94,56.60 L195.39,56.61 L195.84,56.62 L196.29,56.63 L196.74,56.64 L197.19,56.65 L197.64,56.66 L198.08,56.67 L198.53,56.68 L198.98,56.69 L199.43,56.70 L199.88,56.71 L200.33,56.72 L200.78,56.73 L201.22,56.74 L201.67,56.75 L202.12,56.76 L202.57,56.76 L203.02,56.77 L203.47,56.78 L203.91,56.79 L204.36,56.80 L204.81,56.80 L205.26,56.81 L205.71,56.82 L206.16,56.82 L206.61,56.83 L207.05,56.84 L207.50,56.84 L207.95,56.85 L208.40,56.85 L208.85,56.86 L209.30,56.86 L209.75,56.87 L210.19,56.87 L210.64,56.88 L211.09,56.88 L211.54,56.88 L211.99,56.89 L212.44,56.89 L212.88,56.89 L213.33,56.90 L213.78,56.90 L214.23,56.90 L214.68,56.91 L215.13,56.91 L215.58,56.91 L216.02,56.91 L216.47,56.91 L216.92,56.92 L217.37,56.92 L217.82,56.92 L218.27,56.92 L218.72,56.92 L219.16,56.92 L219.61,56.92 L220.06,56.92 L220.51,56.92 L220.96,56.92 L221.41,56.92 L221.85,56.92 L222.30,56.92 L222.75,56.92 L223.20,56.92 L226.79,56.92 L230.38,56.91 L233.96,56.89 L237.55,56.88 L241.14,56.87 L244.73,56.86 L248.32,56.85 L251.90,56.84 L255.49,56.84 L259.08,56.84 L262.67,56.83 L266.26,56.83 L269.84,56.84 L273.43,56.84 L277.02,56.84 L280.61,56.84 L284.20,56.84 L287.78,56.84 L291.37,56.85 L294.96,56.85 L298.55,56.85 L302.14,56.85 L305.72,56.85 L309.31,56.85 L312.90,56.85 L316.49,56.85 L320.08,56.85 L320.52,56.85 L320.97,56.85 L321.42,56.85 L321.87,56.85 L322.32,56.85 L322.77,56.85 L323.22,63.07 L323.66,68.57 L324.11,73.42 L324.56,77.70 L325.01,81.47 L325.46,84.81 L325.91,87.75 L326.36,90.34 L326.80,92.63 L327.25,94.65 L327.70,96.44 L328.15,98.01 L328.60,99.40 L329.05,100.63 L329.49,101.71 L329.94,102.66 L330.39,103.51 L330.84,104.25 L331.29,104.91 L331.74,105.49 L332.19,106.00 L332.63,106.45 L333.08,106.85 L333.53,107.20 L333.98,107.51 L334.43,107.78 L334.88,108.02 L335.33,108.24 L335.77,108.42 L336.22,108.59 L336.67,108.72 L337.12,108.76 L337.57,108.71 L338.02,108.58 L338.46,108.36 L338.91,108.07 L339.36,107.70 L339.81,107.26 L340.26,106.76 L340.71,106.21 L341.16,105.59 L341.60,104.92 L342.05,104.20 L342.50,103.44 L342.95,102.64 L343.40,101.79 L343.85,100.91 L344.30,99.99 L344.74,99.05 L345.19,98.08 L345.64,97.08 L346.09,96.06 L346.54,95.02 L346.99,93.97 L347.43,92.90 L347.88,91.82 L348.33,90.72 L348.78,89.62 L349.23,88.52 L349.68,87.41 L350.13,86.29 L350.57,85.18 L351.02,84.07 L351.47,82.96 L351.92,81.85 L352.37,80.75 L352.82,79.66 L353.27,78.58 L353.71,77.51 L354.16,76.44 L354.61,75.40 L355.06,74.36 L355.51,73.34 L355.96,72.34 L356.40,71.35 L356.85,70.38 L357.30,69.42 L357.75,68.49 L358.20,67.58 L358.65,66.68 L359.10,65.81 L359.54,64.96 L359.99,64.12 L360.44,63.32 L360.89,62.53 L361.34,61.77 L361.79,61.03 L362.24,60.31 L362.68,59.61 L363.13,58.94 L363.58,58.29 L364.03,57.67 L364.48,57.07 L364.93,56.49 L365.37,55.94 L365.82,55.41 L366.27,54.90 L366.72,54.42 L367.17,53.96 L367.62,53.52 L368.07,53.10 L368.51,52.71 L368.96,52.34 L369.41,51.99 L369.86,51.66 L370.31,51.35 L370.76,51.06 L371.21,50.80 L371.65,50.55 L372.10,50.32 L372.55,50.11 L373.00,49.92 L373.45,49.75 L373.90,49.59 L374.34,49.45 L374.79,49.33 L375.24,49.22 L375.69,49.14 L376.14,49.06 L376.59,49.00 L377.04,48.95 L377.48,48.92 L377.93,48.90 L378.38,48.90 L378.83,48.90 L379.28,48.92 L379.73,48.95 L380.18,48.99 L380.62,49.04 L381.07,49.10 L381.52,49.17 L381.97,49.25 L382.42,49.33 L382.87,49.43 L383.31,49.53 L383.76,49.64 L384.21,49.75 L384.66,49.87 L385.11,50.00 L385.56,50.13 L386.01,50.27 L386.45,50.41 L386.90,50.56 L387.35,50.71 L387.80,50.86 L388.25,51.01 L388.70,51.17 L389.15,51.33 L389.59,51.49 L390.04,51.66 L390.49,51.82 L390.94,51.99 L391.39,52.16 L391.84,52.32 L392.28,52.49 L392.73,52.66 L393.18,52.83 L393.63,52.99 L394.08,53.16 L394.53,53.32 L394.98,53.49 L395.42,53.65 L395.87,53.81 L396.32,53.97 L396.77,54.12 L397.22,54.28 L397.67,54.43 L398.12,54.58 L398.56,54.73 L399.01,54.87 L399.46,55.01 L399.91,55.15 L400.36,55.29 L400.81,55.42 L401.25,55.55 L401.70,55.68 L402.15,55.80 L402.60,55.92 L403.05,56.04 L403.50,56.15 L403.95,56.26 L404.39,56.37 L404.84,56.47 L405.29,56.57 L405.74,56.67 L406.19,56.76 L406.64,56.85 L407.09,56.93 L407.53,57.01 L407.98,57.09 L408.43,57.17 L408.88,57.24 L409.33,57.31 L409.78,57.37 L410.22,57.43 L410.67,57.49 L411.12,57.54 L411.57,57.59 L412.02,57.64 L412.47,57.69 L412.92,57.73 L413.36,57.77 L413.81,57.80 L414.26,57.84 L414.71,57.87 L415.16,57.90 L415.61,57.92 L416.06,57.94 L416.50,57.96 L416.95,57.98 L417.40,57.99 L417.85,58.01 L418.30,58.02 L418.75,58.03 L419.19,58.03 L419.64,58.04 L420.09,58.04 L420.54,58.04 L420.99,58.04 L421.44,58.03 L421.89,58.03 L422.33,58.02 L422.78,58.01 L423.23,58.00 L423.68,57.99 L424.13,57.98 L424.58,57.97 L425.03,57.95 L425.47,57.94 L425.92,57.92 L426.37,57.90 L426.82,57.88 L427.27,57.86 L427.72,57.84 L428.16,57.82 L428.61,57.80 L429.06,57.78 L429.51,57.76 L429.96,57.73 L430.41,57.71 L430.86,57.69 L431.30,57.66 L431.75,57.64 L432.20,57.61 L432.65,57.59 L433.10,57.56 L433.55,57.54 L434.00,57.51 L434.44,57.49 L434.89,57.46 L435.34,57.44 L435.79,57.41 L436.24,57.39 L436.69,57.36 L437.13,57.34 L437.58,57.32 L438.03,57.29 L438.48,57.27 L438.93,57.24 L439.38,57.22 L439.83,57.20 L440.27,57.18 L440.72,57.15 L441.17,57.13 L441.62,57.11 L442.07,57.09 L442.52,57.07 L442.97,57.05 L443.41,57.03 L443.86,57.01 L444.31,57.00 L444.76,56.98 L445.21,56.96 L445.66,56.94 L446.10,56.93 L446.55,56.91 L447.00,56.90 L447.45,56.88 L447.90,56.87 L448.35,56.85 L448.80,56.84 L449.24,56.83 L449.69,56.82 L450.14,56.80 L450.59,56.79 L451.04,56.78 L451.49,56.77 L451.94,56.76 L452.38,56.75 L452.83,56.75 L453.28,56.74 L453.73,56.73 L454.18,56.72 L454.63,56.72 L455.07,56.71 L455.52,56.71 L455.97,56.70 L456.42,56.70 L456.87,56.69 L457.32,56.69 L457.77,56.68 L458.21,56.68 L458.66,56.68 L459.11,56.67 L459.56,56.67 L460.01,56.67 L460.46,56.67 L460.91,56.67 L461.35,56.67 L461.80,56.67 L462.25,56.67 L462.70,56.67 L463.15,56.67 L463.60,56.67 L464.04,56.67 L464.49,56.67 L464.94,56.67 L465.39,56.67 L465.84,56.67 L466.29,56.68 L466.74,56.68 L467.18,56.68 L467.63,56.68 L468.08,56.69 L468.53,56.69 L468.98,56.69 L469.43,56.69 L469.88,56.70 L470.32,56.70 L470.77,56.70 L471.22,56.71 L471.67,56.71 L472.12,56.71 L472.57,56.72 L473.01,56.72 L473.46,56.72 L473.91,56.73 L474.36,56.73 L483.33,56.80 L492.30,56.85 L501.27,56.87 L510.24,56.87 L519.21,56.86 L528.18,56.85 L537.15,56.84 L546.12,56.84 L555.09,56.84 L564.06,56.84 L573.03,56.85 L582.00,56.85 L590.97,56.85 L599.94,56.85 L608.91,56.85 L617.88,56.85 L626.85,56.85 L635.82,56.85 L644.79,56.85 L653.76,56.85 L662.73,56.85 L671.70,56.85" stroke="#ff00ff" stroke-width="2.8" stroke-dasharray="11.5 4.2 3.3 4.2" stroke-dashoffset="0"/>
<path d="M43.80,208.70 L44.25,208.70 L44.70,208.70 L45.15,208.70 L45.59,208.70 L46.04,208.70 L46.49,208.70 L46.94,208.70 L47.39,208.70 L47.84,208.70 L48.28,208.70 L48.73,208.70 L49.18,208.70 L49.63,208.70 L50.08,208.70 L50.53,208.70 L50.98,208.70 L51.42,208.70 L51.87,208.70 L52.32,208.70 L52.77,208.70 L53.22,208.70 L53.67,208.70 L54.12,208.59 L54.56,208.26 L55.01,207.72 L55.46,206.98 L55.91,206.06 L56.36,204.96 L56.81,203.70 L57.25,202.29 L57.70,200.73 L58.15,199.03 L58.60,197.21 L59.05,195.26 L59.50,193.21 L59.95,191.06 L60.39,188.82 L60.84,186.49 L61.29,184.09 L61.74,181.61 L62.19,179.07 L62.64,176.48 L63.09,173.84 L63.53,171.15 L63.98,168.43 L64.43,165.68 L64.88,162.90 L65.33,160.10 L65.78,157.29 L66.22,154.47 L66.67,151.64 L67.12,148.81 L67.57,145.98 L68.02,143.16 L68.47,140.36 L68.92,137.56 L69.36,134.79 L69.81,132.04 L70.26,129.31 L70.71,126.61 L71.16,123.94 L71.61,121.30 L72.06,118.70 L72.50,116.13 L72.95,113.60 L73.40,111.12 L73.85,108.67 L74.30,106.27 L74.75,103.92 L75.20,101.61 L75.64,99.35 L76.09,97.13 L76.54,94.97 L76.99,92.86 L77.44,90.80 L77.89,88.79 L78.33,86.83 L78.78,84.93 L79.23,83.08 L79.68,81.28 L80.13,79.53 L80.58,77.84 L81.03,76.19 L81.47,74.61 L81.92,73.07 L82.37,71.59 L82.82,70.15 L83.27,68.77 L83.72,67.44 L84.16,66.16 L84.61,64.93 L85.06,63.75 L85.51,62.62 L85.96,61.54 L86.41,60.50 L86.86,59.51 L87.30,58.56 L87.75,57.66 L88.20,56.80 L88.65,55.99 L89.10,55.22 L89.55,54.49 L90.00,53.80 L90.44,53.14 L90.89,52.53 L91.34,51.95 L91.79,51.41 L92.24,50.91 L92.69,50.44 L93.14,50.00 L93.58,49.60 L94.03,49.22 L94.48,48.88 L94.93,48.57 L95.38,48.28 L95.83,48.03 L96.27,47.80 L96.72,47.59 L97.17,47.41 L97.62,47.26 L98.07,47.12 L98.52,47.01 L98.97,46.92 L99.41,46.85 L99.86,46.80 L100.31,46.77 L100.76,46.75 L101.21,46.75 L101.66,46.77 L102.11,46.81 L102.55,46.85 L103.00,46.91 L103.45,46.99 L103.90,47.08 L104.35,47.17 L104.80,47.28 L105.24,47.40 L105.69,47.53 L106.14,47.67 L106.59,47.82 L107.04,47.97 L107.49,48.13 L107.94,48.30 L108.38,48.47 L108.83,48.65 L109.28,48.84 L109.73,49.03 L110.18,49.22 L110.63,49.42 L111.08,49.62 L111.52,49.83 L111.97,50.03 L112.42,50.24 L112.87,50.45 L113.32,50.66 L113.77,50.88 L114.21,51.09 L114.66,51.31 L115.11,51.52 L115.56,51.74 L116.01,51.95 L116.46,52.17 L116.91,52.38 L117.35,52.59 L117.80,52.81 L118.25,53.02 L118.70,53.23 L119.15,53.43 L119.60,53.64 L120.05,53.84 L120.49,54.04 L120.94,54.24 L121.39,54.44 L121.84,54.63 L122.29,54.83 L122.74,55.01 L123.18,55.20 L123.63,55.38 L124.08,55.56 L124.53,55.74 L124.98,55.91 L125.43,56.09 L125.88,56.25 L126.32,56.42 L126.77,56.58 L127.22,56.74 L127.67,56.89 L128.12,57.04 L128.57,57.19 L129.01,57.33 L129.46,57.47 L129.91,57.61 L130.36,57.74 L130.81,57.87 L131.26,57.99 L131.71,58.11 L132.15,58.23 L132.60,58.35 L133.05,58.46 L133.50,58.56 L133.95,58.67 L134.40,58.76 L134.85,58.86 L135.29,58.95 L135.74,59.04 L136.19,59.12 L136.64,59.20 L137.09,59.28 L137.54,59.35 L137.99,59.42 L138.43,59.49 L138.88,59.55 L139.33,59.61 L139.78,59.66 L140.23,59.71 L140.68,59.76 L141.12,59.81 L141.57,59.85 L142.02,59.88 L142.47,59.92 L142.92,59.95 L143.37,59.97 L143.82,60.00 L144.26,60.02 L144.71,60.04 L145.16,60.05 L145.61,60.06 L146.06,60.07 L146.51,60.07 L146.96,60.08 L147.40,60.08 L147.85,60.07 L148.30,60.07 L148.75,60.06 L149.20,60.05 L149.65,60.03 L150.09,60.02 L150.54,60.00 L150.99,59.98 L151.44,59.96 L151.89,59.93 L152.34,59.91 L152.79,59.88 L153.23,59.85 L153.68,59.81 L154.13,59.78 L154.58,59.75 L155.03,59.71 L155.48,59.67 L155.93,59.63 L156.37,59.59 L156.82,59.55 L157.27,59.51 L157.72,59.47 L158.17,59.42 L158.62,59.38 L159.06,59.33 L159.51,59.29 L159.96,59.24 L160.41,59.19 L160.86,59.15 L161.31,59.10 L161.76,59.05 L162.20,59.00 L162.65,58.96 L163.10,58.91 L163.55,58.86 L164.00,58.81 L164.45,58.77 L164.90,58.72 L165.34,58.67 L165.79,58.63 L166.24,58.58 L166.69,58.54 L167.14,58.49 L167.59,58.45 L168.03,58.41 L168.48,58.36 L168.93,58.32 L169.38,58.28 L169.83,58.24 L170.28,58.20 L170.73,58.17 L171.17,58.13 L171.62,58.09 L172.07,58.06 L172.52,58.02 L172.97,57.99 L173.42,57.95 L173.87,57.92 L174.31,57.89 L174.76,57.86 L175.21,57.83 L175.66,57.80 L176.11,57.77 L176.56,57.75 L177.00,57.72 L177.45,57.70 L177.90,57.67 L178.35,57.65 L178.80,57.63 L179.25,57.61 L179.70,57.59 L180.14,57.57 L180.59,57.55 L181.04,57.53 L181.49,57.52 L181.94,57.50 L182.39,57.48 L182.84,57.47 L183.28,57.45 L183.73,57.44 L184.18,57.43 L184.63,57.42 L185.08,57.40 L185.53,57.39 L185.97,57.38 L186.42,57.37 L186.87,57.36 L187.32,57.36 L187.77,57.35 L188.22,57.34 L188.67,57.33 L189.11,57.33 L189.56,57.32 L190.01,57.31 L190.46,57.31 L190.91,57.30 L191.36,57.30 L191.81,57.30 L192.25,57.29 L192.70,57.29 L193.15,57.28 L193.60,57.28 L194.05,57.28 L194.50,57.28 L194.94,57.27 L195.39,57.27 L195.84,57.27 L196.29,57.27 L196.74,57.27 L197.19,57.27 L197.64,57.26 L198.08,57.26 L198.53,57.26 L198.98,57.26 L199.43,57.26 L199.88,57.26 L200.33,57.26 L200.78,57.26 L201.22,57.26 L201.67,57.26 L202.12,57.26 L202.57,57.26 L203.02,57.26 L203.47,57.26 L203.91,57.26 L204.36,57.26 L204.81,57.26 L205.26,57.26 L205.71,57.26 L206.16,57.26 L206.61,57.27 L207.05,57.27 L207.50,57.27 L207.95,57.27 L208.40,57.27 L208.85,57.27 L209.30,57.27 L209.75,57.27 L210.19,57.27 L210.64,57.27 L211.09,57.27 L211.54,57.27 L211.99,57.28 L212.44,57.28 L212.88,57.28 L213.33,57.28 L213.78,57.28 L214.23,57.28 L214.68,57.28 L215.13,57.28 L215.58,57.28 L216.02,57.28 L216.47,57.28 L216.92,57.28 L217.37,57.29 L217.82,57.29 L218.27,57.29 L218.72,57.29 L219.16,57.29 L219.61,57.29 L220.06,57.29 L220.51,57.29 L220.96,57.29 L221.41,57.29 L221.85,57.29 L222.30,57.29 L222.75,57.29 L223.20,57.29 L226.79,57.30 L230.38,57.30 L233.96,57.30 L237.55,57.30 L241.14,57.30 L244.73,57.30 L248.32,57.30 L251.90,57.30 L255.49,57.30 L259.08,57.30 L262.67,57.30 L266.26,57.30 L269.84,57.30 L273.43,57.30 L277.02,57.30 L280.61,57.30 L284.20,57.30 L287.78,57.30 L291.37,57.30 L294.96,57.30 L298.55,57.30 L302.14,57.30 L305.72,57.30 L309.31,57.30 L312.90,57.30 L316.49,57.30 L320.08,57.30 L320.52,57.30 L320.97,57.30 L321.42,57.30 L321.87,57.30 L322.32,57.30 L322.77,57.30 L323.22,63.53 L323.66,69.02 L324.11,73.87 L324.56,78.15 L325.01,81.93 L325.46,85.26 L325.91,88.20 L326.36,90.80 L326.80,93.09 L327.25,95.11 L327.70,96.89 L328.15,98.47 L328.60,99.86 L329.05,101.08 L329.49,102.16 L329.94,103.12 L330.39,103.96 L330.84,104.70 L331.29,105.36 L331.74,105.94 L332.19,106.45 L332.63,106.90 L333.08,107.30 L333.53,107.65 L333.98,107.96 L334.43,108.24 L334.88,108.48 L335.33,108.69 L335.77,108.88 L336.22,109.04 L336.67,109.19 L337.12,109.32 L337.57,109.43 L338.02,109.51 L338.46,109.50 L338.91,109.40 L339.36,109.23 L339.81,108.98 L340.26,108.66 L340.71,108.28 L341.16,107.83 L341.60,107.33 L342.05,106.78 L342.50,106.18 L342.95,105.54 L343.40,104.85 L343.85,104.12 L344.30,103.36 L344.74,102.57 L345.19,101.74 L345.64,100.89 L346.09,100.02 L346.54,99.13 L346.99,98.21 L347.43,97.28 L347.88,96.34 L348.33,95.38 L348.78,94.42 L349.23,93.45 L349.68,92.47 L350.13,91.48 L350.57,90.50 L351.02,89.51 L351.47,88.52 L351.92,87.54 L352.37,86.56 L352.82,85.58 L353.27,84.61 L353.71,83.65 L354.16,82.70 L354.61,81.75 L355.06,80.82 L355.51,79.89 L355.96,78.98 L356.40,78.08 L356.85,77.20 L357.30,76.33 L357.75,75.47 L358.20,74.63 L358.65,73.81 L359.10,73.00 L359.54,72.21 L359.99,71.44 L360.44,70.69 L360.89,69.95 L361.34,69.23 L361.79,68.53 L362.24,67.85 L362.68,67.19 L363.13,66.54 L363.58,65.92 L364.03,65.32 L364.48,64.73 L364.93,64.16 L365.37,63.62 L365.82,63.09 L366.27,62.58 L366.72,62.09 L367.17,61.62 L367.62,61.16 L368.07,60.73 L368.51,60.31 L368.96,59.92 L369.41,59.54 L369.86,59.17 L370.31,58.83 L370.76,58.50 L371.21,58.19 L371.65,57.89 L372.10,57.61 L372.55,57.34 L373.00,57.10 L373.45,56.86 L373.90,56.64 L374.34,56.43 L374.79,56.24 L375.24,56.06 L375.69,55.89 L376.14,55.74 L376.59,55.60 L377.04,55.46 L377.48,55.34 L377.93,55.23 L378.38,55.13 L378.83,55.04 L379.28,54.96 L379.73,54.89 L380.18,54.82 L380.62,54.76 L381.07,54.71 L381.52,54.67 L381.97,54.63 L382.42,54.60 L382.87,54.58 L383.31,54.56 L383.76,54.54 L384.21,54.53 L384.66,54.53 L385.11,54.53 L385.56,54.53 L386.01,54.54 L386.45,54.55 L386.90,54.56 L387.35,54.58 L387.80,54.60 L388.25,54.62 L388.70,54.65 L389.15,54.67 L389.59,54.70 L390.04,54.73 L390.49,54.77 L390.94,54.80 L391.39,54.84 L391.84,54.88 L392.28,54.92 L392.73,54.96 L393.18,55.00 L393.63,55.04 L394.08,55.09 L394.53,55.13 L394.98,55.18 L395.42,55.23 L395.87,55.28 L396.32,55.33 L396.77,55.38 L397.22,55.44 L397.67,55.49 L398.12,55.54 L398.56,55.60 L399.01,55.66 L399.46,55.71 L399.91,55.77 L400.36,55.83 L400.81,55.89 L401.25,55.94 L401.70,56.00 L402.15,56.06 L402.60,56.12 L403.05,56.18 L403.50,56.24 L403.95,56.30 L404.39,56.36 L404.84,56.42 L405.29,56.48 L405.74,56.54 L406.19,56.60 L406.64,56.66 L407.09,56.72 L407.53,56.78 L407.98,56.84 L408.43,56.89 L408.88,56.95 L409.33,57.00 L409.78,57.06 L410.22,57.11 L410.67,57.17 L411.12,57.22 L411.57,57.27 L412.02,57.32 L412.47,57.37 L412.92,57.42 L413.36,57.46 L413.81,57.51 L414.26,57.55 L414.71,57.59 L415.16,57.64 L415.61,57.68 L416.06,57.72 L416.50,57.75 L416.95,57.79 L417.40,57.82 L417.85,57.86 L418.30,57.89 L418.75,57.92 L419.19,57.95 L419.64,57.98 L420.09,58.01 L420.54,58.03 L420.99,58.05 L421.44,58.08 L421.89,58.10 L422.33,58.12 L422.78,58.14 L423.23,58.15 L423.68,58.17 L424.13,58.18 L424.58,58.20 L425.03,58.21 L425.47,58.22 L425.92,58.23 L426.37,58.24 L426.82,58.24 L427.27,58.25 L427.72,58.25 L428.16,58.25 L428.61,58.26 L429.06,58.26 L429.51,58.26 L429.96,58.26 L430.41,58.25 L430.86,58.25 L431.30,58.25 L431.75,58.24 L432.20,58.24 L432.65,58.23 L433.10,58.22 L433.55,58.21 L434.00,58.21 L434.44,58.20 L434.89,58.19 L435.34,58.17 L435.79,58.16 L436.24,58.15 L436.69,58.14 L437.13,58.12 L437.58,58.11 L438.03,58.10 L438.48,58.08 L438.93,58.07 L439.38,58.05 L439.83,58.04 L440.27,58.02 L440.72,58.01 L441.17,57.99 L441.62,57.97 L442.07,57.96 L442.52,57.94 L442.97,57.92 L443.41,57.91 L443.86,57.89 L444.31,57.87 L444.76,57.86 L445.21,57.84 L445.66,57.82 L446.10,57.81 L446.55,57.79 L447.00,57.78 L447.45,57.76 L447.90,57.74 L448.35,57.73 L448.80,57.71 L449.24,57.70 L449.69,57.68 L450.14,57.67 L450.59,57.65 L451.04,57.64 L451.49,57.63 L451.94,57.61 L452.38,57.60 L452.83,57.59 L453.28,57.57 L453.73,57.56 L454.18,57.55 L454.63,57.54 L455.07,57.53 L455.52,57.51 L455.97,57.50 L456.42,57.49 L456.87,57.48 L457.32,57.47 L457.77,57.46 L458.21,57.45 L458.66,57.45 L459.11,57.44 L459.56,57.43 L460.01,57.42 L460.46,57.41 L460.91,57.41 L461.35,57.40 L461.80,57.39 L462.25,57.39 L462.70,57.38 L463.15,57.37 L463.60,57.37 L464.04,57.36 L464.49,57.36 L464.94,57.35 L465.39,57.35 L465.84,57.34 L466.29,57.34 L466.74,57.34 L467.18,57.33 L467.63,57.33 L468.08,57.33 L468.53,57.32 L468.98,57.32 L469.43,57.32 L469.88,57.31 L470.32,57.31 L470.77,57.31 L471.22,57.31 L471.67,57.30 L472.12,57.30 L472.57,57.30 L473.01,57.30 L473.46,57.30 L473.91,57.30 L474.36,57.29 L483.33,57.28 L492.30,57.29 L501.27,57.29 L510.24,57.30 L519.21,57.30 L528.18,57.30 L537.15,57.30 L546.12,57.30 L555.09,57.30 L564.06,57.30 L573.03,57.30 L582.00,57.30 L590.97,57.30 L599.94,57.30 L608.91,57.30 L617.88,57.30 L626.85,57.30 L635.82,57.30 L644.79,57.30 L653.76,57.30 L662.73,57.30 L671.70,57.30" stroke="#000000" stroke-width="2.8"/>
<path d="M43.80,208.70 L44.25,208.70 L44.70,208.70 L45.15,208.70 L45.59,208.70 L46.04,208.70 L46.49,208.70 L46.94,208.70 L47.39,208.70 L47.84,208.70 L48.28,208.70 L48.73,208.70 L49.18,208.70 L49.63,208.70 L50.08,208.70 L50.53,208.70 L50.98,208.70 L51.42,208.70 L51.87,208.70 L52.32,208.70 L52.77,208.70 L53.22,208.70 L53.67,208.70 L54.12,208.58 L54.56,208.21 L55.01,207.60 L55.46,206.77 L55.91,205.73 L56.36,204.47 L56.81,203.01 L57.25,201.36 L57.70,199.53 L58.15,197.52 L58.60,195.35 L59.05,193.02 L59.50,190.55 L59.95,187.93 L60.39,185.19 L60.84,182.32 L61.29,179.34 L61.74,176.26 L62.19,173.08 L62.64,169.81 L63.09,166.47 L63.53,163.05 L63.98,159.57 L64.43,156.03 L64.88,152.44 L65.33,148.82 L65.78,145.16 L66.22,141.47 L66.67,137.76 L67.12,134.04 L67.57,130.32 L68.02,126.59 L68.47,122.87 L68.92,119.16 L69.36,115.47 L69.81,111.80 L70.26,108.16 L70.71,104.56 L71.16,100.99 L71.61,97.46 L72.06,93.98 L72.50,90.55 L72.95,87.18 L73.40,83.87 L73.85,80.62 L74.30,77.43 L74.75,74.32 L75.20,71.28 L75.64,68.31 L76.09,65.41 L76.54,62.60 L76.99,59.87 L77.44,57.22 L77.89,54.66 L78.33,52.18 L78.78,49.79 L79.23,47.49 L79.68,45.28 L80.13,43.16 L80.58,41.13 L81.03,39.19 L81.47,37.35 L81.92,35.59 L82.37,33.93 L82.82,32.36 L83.27,30.88 L83.72,29.49 L84.16,28.19 L84.61,26.98 L85.06,25.86 L85.51,24.82 L85.96,23.87 L86.41,23.01 L86.86,22.23 L87.30,21.53 L87.75,20.92 L88.20,20.38 L88.65,19.92 L89.10,19.54 L89.55,19.23 L90.00,18.99 L90.44,18.82 L90.89,18.73 L91.34,18.69 L91.79,18.72 L92.24,18.80 L92.69,18.93 L93.14,19.11 L93.58,19.34 L94.03,19.61 L94.48,19.93 L94.93,20.30 L95.38,20.70 L95.83,21.14 L96.27,21.62 L96.72,22.13 L97.17,22.68 L97.62,23.26 L98.07,23.87 L98.52,24.51 L98.97,25.17 L99.41,25.86 L99.86,26.58 L100.31,27.31 L100.76,28.07 L101.21,28.84 L101.66,29.63 L102.11,30.44 L102.55,31.26 L103.00,32.09 L103.45,32.93 L103.90,33.78 L104.35,34.64 L104.80,35.51 L105.24,36.38 L105.69,37.25 L106.14,38.12 L106.59,39.00 L107.04,39.88 L107.49,40.75 L107.94,41.62 L108.38,42.49 L108.83,43.35 L109.28,44.21 L109.73,45.06 L110.18,45.90 L110.63,46.73 L111.08,47.55 L111.52,48.36 L111.97,49.16 L112.42,49.95 L112.87,50.72 L113.32,51.49 L113.77,52.23 L114.21,52.96 L114.66,53.68 L115.11,54.38 L115.56,55.06 L116.01,55.73 L116.46,56.38 L116.91,57.01 L117.35,57.62 L117.80,58.21 L118.25,58.79 L118.70,59.35 L119.15,59.88 L119.60,60.40 L120.05,60.90 L120.49,61.38 L120.94,61.83 L121.39,62.27 L121.84,62.69 L122.29,63.09 L122.74,63.47 L123.18,63.83 L123.63,64.17 L124.08,64.49 L124.53,64.79 L124.98,65.07 L125.43,65.33 L125.88,65.57 L126.32,65.80 L126.77,66.00 L127.22,66.19 L127.67,66.36 L128.12,66.51 L128.57,66.65 L129.01,66.77 L129.46,66.87 L129.91,66.95 L130.36,67.02 L130.81,67.07 L131.26,67.11 L131.71,67.14 L132.15,67.14 L132.60,67.14 L133.05,67.12 L133.50,67.09 L133.95,67.05 L134.40,66.99 L134.85,66.92 L135.29,66.84 L135.74,66.75 L136.19,66.65 L136.64,66.54 L137.09,66.42 L137.54,66.29 L137.99,66.15 L138.43,66.00 L138.88,65.85 L139.33,65.69 L139.78,65.52 L140.23,65.34 L140.68,65.16 L141.12,64.97 L141.57,64.78 L142.02,64.58 L142.47,64.38 L142.92,64.18 L143.37,63.97 L143.82,63.76 L144.26,63.54 L144.71,63.33 L145.16,63.11 L145.61,62.89 L146.06,62.67 L146.51,62.44 L146.96,62.22 L147.40,62.00 L147.85,61.77 L148.30,61.55 L148.75,61.33 L149.20,61.11 L149.65,60.89 L150.09,60.67 L150.54,60.45 L150.99,60.24 L151.44,60.03 L151.89,59.82 L152.34,59.61 L152.79,59.40 L153.23,59.20 L153.68,59.00 L154.13,58.81 L154.58,58.62 L155.03,58.43 L155.48,58.25 L155.93,58.07 L156.37,57.89 L156.82,57.72 L157.27,57.56 L157.72,57.40 L158.17,57.24 L158.62,57.09 L159.06,56.94 L159.51,56.80 L159.96,56.66 L160.41,56.53 L160.86,56.40 L161.31,56.28 L161.76,56.16 L162.20,56.05 L162.65,55.94 L163.10,55.84 L163.55,55.74 L164.00,55.65 L164.45,55.56 L164.90,55.48 L165.34,55.40 L165.79,55.33 L166.24,55.26 L166.69,55.20 L167.14,55.14 L167.59,55.09 L168.03,55.04 L168.48,55.00 L168.93,54.96 L169.38,54.92 L169.83,54.89 L170.28,54.86 L170.73,54.84 L171.17,54.82 L171.62,54.81 L172.07,54.80 L172.52,54.79 L172.97,54.79 L173.42,54.79 L173.87,54.79 L174.31,54.80 L174.76,54.81 L175.21,54.83 L175.66,54.84 L176.11,54.86 L176.56,54.89 L177.00,54.91 L177.45,54.94 L177.90,54.97 L178.35,55.00 L178.80,55.04 L179.25,55.08 L179.70,55.11 L180.14,55.16 L180.59,55.20 L181.04,55.24 L181.49,55.29 L181.94,55.34 L182.39,55.39 L182.84,55.44 L183.28,55.49 L183.73,55.54 L184.18,55.59 L184.63,55.65 L185.08,55.70 L185.53,55.76 L185.97,55.81 L186.42,55.87 L186.87,55.92 L187.32,55.98 L187.77,56.04 L188.22,56.09 L188.67,56.15 L189.11,56.21 L189.56,56.26 L190.01,56.32 L190.46,56.38 L190.91,56.43 L191.36,56.49 L191.81,56.54 L192.25,56.60 L192.70,56.65 L193.15,56.70 L193.60,56.76 L194.05,56.81 L194.50,56.86 L194.94,56.91 L195.39,56.96 L195.84,57.00 L196.29,57.05 L196.74,57.10 L197.19,57.14 L197.64,57.19 L198.08,57.23 L198.53,57.27 L198.98,57.31 L199.43,57.35 L199.88,57.39 L200.33,57.42 L200.78,57.46 L201.22,57.49 L201.67,57.53 L202.12,57.56 L202.57,57.59 L203.02,57.62 L203.47,57.64 L203.91,57.67 L204.36,57.69 L204.81,57.72 L205.26,57.74 L205.71,57.76 L206.16,57.78 L206.61,57.80 L207.05,57.82 L207.50,57.83 L207.95,57.85 L208.40,57.86 L208.85,57.87 L209.30,57.89 L209.75,57.90 L210.19,57.91 L210.64,57.91 L211.09,57.92 L211.54,57.93 L211.99,57.93 L212.44,57.93 L212.88,57.94 L213.33,57.94 L213.78,57.94 L214.23,57.94 L214.68,57.94 L215.13,57.94 L215.58,57.93 L216.02,57.93 L216.47,57.93 L216.92,57.92 L217.37,57.92 L217.82,57.91 L218.27,57.90 L218.72,57.90 L219.16,57.89 L219.61,57.88 L220.06,57.87 L220.51,57.86 L220.96,57.85 L221.41,57.84 L221.85,57.83 L222.30,57.81 L222.75,57.80 L223.20,57.79 L226.79,57.68 L230.38,57.57 L233.96,57.45 L237.55,57.35 L241.14,57.27 L244.73,57.21 L248.32,57.16 L251.90,57.14 L255.49,57.14 L259.08,57.15 L262.67,57.17 L266.26,57.19 L269.84,57.22 L273.43,57.25 L277.02,57.28 L280.61,57.30 L284.20,57.32 L287.78,57.33 L291.37,57.34 L294.96,57.34 L298.55,57.34 L302.14,57.34 L305.72,57.33 L309.31,57.32 L312.90,57.32 L316.49,57.31 L320.08,57.30 L320.52,57.30 L320.97,57.30 L321.42,57.30 L321.87,57.30 L322.32,57.30 L322.77,57.30 L323.22,63.52 L323.66,69.02 L324.11,73.87 L324.56,78.15 L325.01,81.92 L325.46,85.25 L325.91,88.19 L326.36,90.79 L326.80,93.08 L327.25,95.10 L327.70,96.88 L328.15,98.46 L328.60,99.85 L329.05,101.07 L329.49,102.16 L329.94,103.11 L330.39,103.95 L330.84,104.70 L331.29,105.35 L331.74,105.93 L332.19,106.44 L332.63,106.89 L333.08,107.29 L333.53,107.64 L333.98,107.95 L334.43,108.22 L334.88,108.47 L335.33,108.68 L335.77,108.87 L336.22,109.03 L336.67,109.16 L337.12,109.20 L337.57,109.13 L338.02,108.98 L338.46,108.73 L338.91,108.39 L339.36,107.98 L339.81,107.49 L340.26,106.93 L340.71,106.30 L341.16,105.60 L341.60,104.85 L342.05,104.03 L342.50,103.17 L342.95,102.25 L343.40,101.29 L343.85,100.28 L344.30,99.23 L344.74,98.15 L345.19,97.03 L345.64,95.88 L346.09,94.71 L346.54,93.51 L346.99,92.28 L347.43,91.04 L347.88,89.78 L348.33,88.51 L348.78,87.23 L349.23,85.94 L349.68,84.65 L350.13,83.35 L350.57,82.04 L351.02,80.74 L351.47,79.45 L351.92,78.15 L352.37,76.87 L352.82,75.59 L353.27,74.33 L353.71,73.07 L354.16,71.84 L354.61,70.61 L355.06,69.41 L355.51,68.22 L355.96,67.05 L356.40,65.91 L356.85,64.78 L357.30,63.68 L357.75,62.61 L358.20,61.56 L358.65,60.54 L359.10,59.54 L359.54,58.58 L359.99,57.64 L360.44,56.73 L360.89,55.85 L361.34,55.00 L361.79,54.18 L362.24,53.40 L362.68,52.64 L363.13,51.92 L363.58,51.23 L364.03,50.57 L364.48,49.94 L364.93,49.35 L365.37,48.79 L365.82,48.26 L366.27,47.76 L366.72,47.29 L367.17,46.85 L367.62,46.45 L368.07,46.08 L368.51,45.73 L368.96,45.42 L369.41,45.13 L369.86,44.88 L370.31,44.65 L370.76,44.45 L371.21,44.28 L371.65,44.14 L372.10,44.02 L372.55,43.92 L373.00,43.86 L373.45,43.81 L373.90,43.79 L374.34,43.79 L374.79,43.81 L375.24,43.85 L375.69,43.91 L376.14,43.98 L376.59,44.07 L377.04,44.18 L377.48,44.30 L377.93,44.43 L378.38,44.58 L378.83,44.75 L379.28,44.92 L379.73,45.11 L380.18,45.31 L380.62,45.52 L381.07,45.73 L381.52,45.96 L381.97,46.20 L382.42,46.45 L382.87,46.70 L383.31,46.97 L383.76,47.23 L384.21,47.51 L384.66,47.79 L385.11,48.07 L385.56,48.36 L386.01,48.66 L386.45,48.95 L386.90,49.25 L387.35,49.55 L387.80,49.86 L388.25,50.16 L388.70,50.47 L389.15,50.77 L389.59,51.08 L390.04,51.39 L390.49,51.69 L390.94,52.00 L391.39,52.30 L391.84,52.60 L392.28,52.90 L392.73,53.19 L393.18,53.49 L393.63,53.77 L394.08,54.06 L394.53,54.34 L394.98,54.62 L395.42,54.89 L395.87,55.16 L396.32,55.42 L396.77,55.68 L397.22,55.93 L397.67,56.18 L398.12,56.42 L398.56,56.66 L399.01,56.89 L399.46,57.11 L399.91,57.33 L400.36,57.54 L400.81,57.74 L401.25,57.94 L401.70,58.13 L402.15,58.31 L402.60,58.49 L403.05,58.66 L403.50,58.82 L403.95,58.98 L404.39,59.13 L404.84,59.27 L405.29,59.41 L405.74,59.54 L406.19,59.66 L406.64,59.77 L407.09,59.88 L407.53,59.98 L407.98,60.07 L408.43,60.16 L408.88,60.24 L409.33,60.32 L409.78,60.39 L410.22,60.45 L410.67,60.50 L411.12,60.55 L411.57,60.60 L412.02,60.63 L412.47,60.67 L412.92,60.69 L413.36,60.71 L413.81,60.73 L414.26,60.74 L414.71,60.74 L415.16,60.74 L415.61,60.74 L416.06,60.73 L416.50,60.72 L416.95,60.70 L417.40,60.68 L417.85,60.65 L418.30,60.62 L418.75,60.59 L419.19,60.55 L419.64,60.51 L420.09,60.46 L420.54,60.42 L420.99,60.37 L421.44,60.31 L421.89,60.26 L422.33,60.20 L422.78,60.14 L423.23,60.08 L423.68,60.01 L424.13,59.94 L424.58,59.88 L425.03,59.81 L425.47,59.74 L425.92,59.66 L426.37,59.59 L426.82,59.51 L427.27,59.44 L427.72,59.36 L428.16,59.29 L428.61,59.21 L429.06,59.13 L429.51,59.05 L429.96,58.97 L430.41,58.90 L430.86,58.82 L431.30,58.74 L431.75,58.66 L432.20,58.59 L432.65,58.51 L433.10,58.43 L433.55,58.36 L434.00,58.28 L434.44,58.21 L434.89,58.14 L435.34,58.06 L435.79,57.99 L436.24,57.92 L436.69,57.86 L437.13,57.79 L437.58,57.72 L438.03,57.66 L438.48,57.59 L438.93,57.53 L439.38,57.47 L439.83,57.41 L440.27,57.36 L440.72,57.30 L441.17,57.25 L441.62,57.19 L442.07,57.14 L442.52,57.10 L442.97,57.05 L443.41,57.00 L443.86,56.96 L444.31,56.92 L444.76,56.88 L445.21,56.84 L445.66,56.80 L446.10,56.77 L446.55,56.73 L447.00,56.70 L447.45,56.67 L447.90,56.65 L448.35,56.62 L448.80,56.60 L449.24,56.57 L449.69,56.55 L450.14,56.53 L450.59,56.52 L451.04,56.50 L451.49,56.48 L451.94,56.47 L452.38,56.46 L452.83,56.45 L453.28,56.44 L453.73,56.44 L454.18,56.43 L454.63,56.43 L455.07,56.42 L455.52,56.42 L455.97,56.42 L456.42,56.42 L456.87,56.42 L457.32,56.43 L457.77,56.43 L458.21,56.44 L458.66,56.44 L459.11,56.45 L459.56,56.46 L460.01,56.47 L460.46,56.48 L460.91,56.49 L461.35,56.50 L461.80,56.52 L462.25,56.53 L462.70,56.54 L463.15,56.56 L463.60,56.57 L464.04,56.59 L464.49,56.61 L464.94,56.62 L465.39,56.64 L465.84,56.66 L466.29,56.68 L466.74,56.69 L467.18,56.71 L467.63,56.73 L468.08,56.75 L468.53,56.77 L468.98,56.79 L469.43,56.81 L469.88,56.83 L470.32,56.85 L470.77,56.87 L471.22,56.89 L471.67,56.91 L472.12,56.93 L472.57,56.95 L473.01,56.97 L473.46,56.99 L473.91,57.01 L474.36,57.03 L483.33,57.35 L492.30,57.51 L501.27,57.51 L510.24,57.43 L519.21,57.33 L528.18,57.26 L537.15,57.24 L546.12,57.25 L555.09,57.28 L564.06,57.30 L573.03,57.31 L582.00,57.31 L590.97,57.31 L599.94,57.30 L608.91,57.30 L617.88,57.30 L626.85,57.30 L635.82,57.30 L644.79,57.30 L653.76,57.30 L662.73,57.30 L671.70,57.30" stroke="#000000" stroke-width="2.8" stroke-dasharray="14.3 8.9" stroke-dashoffset="0"/>
</g>
<g clip-path="url(#c2)" fill="none" stroke-linejoin="round">
<path d="M43.80,484.90 L44.25,482.81 L44.70,480.60 L45.15,478.29 L45.59,475.87 L46.04,473.37 L46.49,470.77 L46.94,468.10 L47.39,465.35 L47.84,462.54 L48.28,459.68 L48.73,456.76 L49.18,453.79 L49.63,450.79 L50.08,447.76 L50.53,444.70 L50.98,441.61 L51.42,438.51 L51.87,435.40 L52.32,432.29 L52.77,429.17 L53.22,426.06 L53.67,422.96 L54.12,419.87 L54.56,416.80 L55.01,413.75 L55.46,410.72 L55.91,407.72 L56.36,404.76 L56.81,401.83 L57.25,398.94 L57.70,396.09 L58.15,393.29 L58.60,390.53 L59.05,387.82 L59.50,385.16 L59.95,382.56 L60.39,380.01 L60.84,377.52 L61.29,375.09 L61.74,372.71 L62.19,370.40 L62.64,368.15 L63.09,365.97 L63.53,363.85 L63.98,361.79 L64.43,359.80 L64.88,357.88 L65.33,356.02 L65.78,354.24 L66.22,352.51 L66.67,350.86 L67.12,349.27 L67.57,347.75 L68.02,346.30 L68.47,344.91 L68.92,343.59 L69.36,342.33 L69.81,341.14 L70.26,340.01 L70.71,338.95 L71.16,337.95 L71.61,337.01 L72.06,336.13 L72.50,335.31 L72.95,334.55 L73.40,333.85 L73.85,333.20 L74.30,332.61 L74.75,332.08 L75.20,331.59 L75.64,331.16 L76.09,330.78 L76.54,330.45 L76.99,330.16 L77.44,329.93 L77.89,329.73 L78.33,329.58 L78.78,329.47 L79.23,329.41 L79.68,329.38 L80.13,329.39 L80.58,329.43 L81.03,329.51 L81.47,329.62 L81.92,329.77 L82.37,329.94 L82.82,330.15 L83.27,330.38 L83.72,330.64 L84.16,330.92 L84.61,331.23 L85.06,331.56 L85.51,331.91 L85.96,332.27 L86.41,332.66 L86.86,333.06 L87.30,333.48 L87.75,333.92 L88.20,334.36 L88.65,334.82 L89.10,335.29 L89.55,335.77 L90.00,336.26 L90.44,336.75 L90.89,337.25 L91.34,337.76 L91.79,338.27 L92.24,338.79 L92.69,339.30 L93.14,339.82 L93.58,340.34 L94.03,340.86 L94.48,341.38 L94.93,341.90 L95.38,342.42 L95.83,342.93 L96.27,343.44 L96.72,343.94 L97.17,344.44 L97.62,344.94 L98.07,345.43 L98.52,345.91 L98.97,346.39 L99.41,346.86 L99.86,347.32 L100.31,347.77 L100.76,348.21 L101.21,348.65 L101.66,349.07 L102.11,349.49 L102.55,349.90 L103.00,350.29 L103.45,350.68 L103.90,351.05 L104.35,351.42 L104.80,351.77 L105.24,352.12 L105.69,352.45 L106.14,352.77 L106.59,353.08 L107.04,353.38 L107.49,353.66 L107.94,353.94 L108.38,354.21 L108.83,354.46 L109.28,354.70 L109.73,354.93 L110.18,355.16 L110.63,355.37 L111.08,355.56 L111.52,355.75 L111.97,355.93 L112.42,356.10 L112.87,356.25 L113.32,356.40 L113.77,356.54 L114.21,356.66 L114.66,356.78 L115.11,356.89 L115.56,356.99 L116.01,357.08 L116.46,357.16 L116.91,357.23 L117.35,357.29 L117.80,357.35 L118.25,357.40 L118.70,357.44 L119.15,357.47 L119.60,357.49 L120.05,357.51 L120.49,357.52 L120.94,357.53 L121.39,357.53 L121.84,357.52 L122.29,357.51 L122.74,357.49 L123.18,357.46 L123.63,357.43 L124.08,357.40 L124.53,357.36 L124.98,357.32 L125.43,357.27 L125.88,357.22 L126.32,357.16 L126.77,357.11 L127.22,357.04 L127.67,356.98 L128.12,356.91 L128.57,356.84 L129.01,356.77 L129.46,356.70 L129.91,356.62 L130.36,356.54 L130.81,356.46 L131.26,356.38 L131.71,356.30 L132.15,356.21 L132.60,356.13 L133.05,356.04 L133.50,355.96 L133.95,355.87 L134.40,355.78 L134.85,355.70 L135.29,355.61 L135.74,355.52 L136.19,355.44 L136.64,355.35 L137.09,355.27 L137.54,355.18 L137.99,355.10 L138.43,355.01 L138.88,354.93 L139.33,354.85 L139.78,354.77 L140.23,354.69 L140.68,354.61 L141.12,354.53 L141.57,354.46 L142.02,354.38 L142.47,354.31 L142.92,354.24 L143.37,354.17 L143.82,354.10 L144.26,354.04 L144.71,353.97 L145.16,353.91 L145.61,353.85 L146.06,353.79 L146.51,353.73 L146.96,353.68 L147.40,353.62 L147.85,353.57 L148.30,353.52 L148.75,353.47 L149.20,353.43 L149.65,353.38 L150.09,353.34 L150.54,353.30 L150.99,353.26 L151.44,353.22 L151.89,353.19 L152.34,353.16 L152.79,353.12 L153.23,353.09 L153.68,353.07 L154.13,353.04 L154.58,353.02 L155.03,352.99 L155.48,352.97 L155.93,352.95 L156.37,352.93 L156.82,352.92 L157.27,352.90 L157.72,352.89 L158.17,352.88 L158.62,352.87 L159.06,352.86 L159.51,352.85 L159.96,352.84 L160.41,352.84 L160.86,352.83 L161.31,352.83 L161.76,352.83 L162.20,352.83 L162.65,352.83 L163.10,352.83 L163.55,352.83 L164.00,352.83 L164.45,352.84 L164.90,352.84 L165.34,352.85 L165.79,352.86 L166.24,352.86 L166.69,352.87 L167.14,352.88 L167.59,352.89 L168.03,352.90 L168.48,352.91 L168.93,352.92 L169.38,352.93 L169.83,352.94 L170.28,352.95 L170.73,352.97 L171.17,352.98 L171.62,352.99 L172.07,353.01 L172.52,353.02 L172.97,353.03 L173.42,353.05 L173.87,353.06 L174.31,353.08 L174.76,353.09 L175.21,353.10 L175.66,353.12 L176.11,353.13 L176.56,353.15 L177.00,353.16 L177.45,353.18 L177.90,353.19 L178.35,353.21 L178.80,353.22 L179.25,353.23 L179.70,353.25 L180.14,353.26 L180.59,353.27 L181.04,353.29 L181.49,353.30 L181.94,353.31 L182.39,353.33 L182.84,353.34 L183.28,353.35 L183.73,353.36 L184.18,353.38 L184.63,353.39 L185.08,353.40 L185.53,353.41 L185.97,353.42 L186.42,353.43 L186.87,353.44 L187.32,353.45 L187.77,353.46 L188.22,353.47 L188.67,353.48 L189.11,353.49 L189.56,353.50 L190.01,353.50 L190.46,353.51 L190.91,353.52 L191.36,353.53 L191.81,353.53 L192.25,353.54 L192.70,353.55 L193.15,353.55 L193.60,353.56 L194.05,353.56 L194.50,353.57 L194.94,353.57 L195.39,353.58 L195.84,353.58 L196.29,353.58 L196.74,353.59 L197.19,353.59 L197.64,353.59 L198.08,353.60 L198.53,353.60 L198.98,353.60 L199.43,353.60 L199.88,353.61 L200.33,353.61 L200.78,353.61 L201.22,353.61 L201.67,353.61 L202.12,353.61 L202.57,353.61 L203.02,353.61 L203.47,353.61 L203.91,353.61 L204.36,353.61 L204.81,353.61 L205.26,353.61 L205.71,353.61 L206.16,353.61 L206.61,353.61 L207.05,353.61 L207.50,353.61 L207.95,353.61 L208.40,353.60 L208.85,353.60 L209.30,353.60 L209.75,353.60 L210.19,353.60 L210.64,353.60 L211.09,353.59 L211.54,353.59 L211.99,353.59 L212.44,353.59 L212.88,353.58 L213.33,353.58 L213.78,353.58 L214.23,353.58 L214.68,353.58 L215.13,353.57 L215.58,353.57 L216.02,353.57 L216.47,353.57 L216.92,353.56 L217.37,353.56 L217.82,353.56 L218.27,353.56 L218.72,353.55 L219.16,353.55 L219.61,353.55 L220.06,353.55 L220.51,353.54 L220.96,353.54 L221.41,353.54 L221.85,353.54 L222.30,353.54 L222.75,353.53 L223.20,353.53 L226.79,353.51 L230.38,353.50 L233.96,353.49 L237.55,353.49 L241.14,353.48 L244.73,353.48 L248.32,353.48 L251.90,353.48 L255.49,353.49 L259.08,353.49 L262.67,353.49 L266.26,353.50 L269.84,353.50 L273.43,353.50 L277.02,353.50 L280.61,353.50 L284.20,353.50 L287.78,353.50 L291.37,353.50 L294.96,353.50 L298.55,353.50 L302.14,353.50 L305.72,353.50 L309.31,353.50 L312.90,353.50 L316.49,353.50 L320.08,353.50 L320.52,353.50 L320.97,353.50 L321.42,353.50 L321.87,353.50 L322.32,353.50 L322.77,353.50 L323.22,353.50 L323.66,353.50 L324.11,353.32 L324.56,353.10 L325.01,352.84 L325.46,352.55 L325.91,352.22 L326.36,351.86 L326.80,351.46 L327.25,351.03 L327.70,350.56 L328.15,350.05 L328.60,349.51 L329.05,348.93 L329.49,348.32 L329.94,347.67 L330.39,346.99 L330.84,346.28 L331.29,345.54 L331.74,344.77 L332.19,343.97 L332.63,343.14 L333.08,342.28 L333.53,341.40 L333.98,340.50 L334.43,339.58 L334.88,338.64 L335.33,337.68 L335.77,336.71 L336.22,335.73 L336.67,334.73 L337.12,333.73 L337.57,332.72 L338.02,331.70 L338.46,330.68 L338.91,329.66 L339.36,328.64 L339.81,327.62 L340.26,326.61 L340.71,325.60 L341.16,324.60 L341.60,323.60 L342.05,322.62 L342.50,321.65 L342.95,320.69 L343.40,319.75 L343.85,318.82 L344.30,317.90 L344.74,317.01 L345.19,316.13 L345.64,315.27 L346.09,314.43 L346.54,313.62 L346.99,312.82 L347.43,312.05 L347.88,311.29 L348.33,310.56 L348.78,309.86 L349.23,309.17 L349.68,308.51 L350.13,307.88 L350.57,307.26 L351.02,306.68 L351.47,306.11 L351.92,305.57 L352.37,305.05 L352.82,304.56 L353.27,304.09 L353.71,303.65 L354.16,303.22 L354.61,302.82 L355.06,302.45 L355.51,302.09 L355.96,301.76 L356.40,301.45 L356.85,301.16 L357.30,300.89 L357.75,300.64 L358.20,300.41 L358.65,300.20 L359.10,300.02 L359.54,299.85 L359.99,299.69 L360.44,299.56 L360.89,299.44 L361.34,299.34 L361.79,299.26 L362.24,299.19 L362.68,299.14 L363.13,299.10 L363.58,299.08 L364.03,299.07 L364.48,299.07 L364.93,299.09 L365.37,299.11 L365.82,299.15 L366.27,299.21 L366.72,299.27 L367.17,299.34 L367.62,299.42 L368.07,299.51 L368.51,299.61 L368.96,299.72 L369.41,299.83 L369.86,299.96 L370.31,300.08 L370.76,300.22 L371.21,300.36 L371.65,300.51 L372.10,300.66 L372.55,300.82 L373.00,300.98 L373.45,301.14 L373.90,301.31 L374.34,301.48 L374.79,301.65 L375.24,301.83 L375.69,302.00 L376.14,302.18 L376.59,302.36 L377.04,302.54 L377.48,302.73 L377.93,302.91 L378.38,303.09 L378.83,303.27 L379.28,303.45 L379.73,303.63 L380.18,303.81 L380.62,303.99 L381.07,304.17 L381.52,304.34 L381.97,304.52 L382.42,304.69 L382.87,304.86 L383.31,305.02 L383.76,305.19 L384.21,305.35 L384.66,305.51 L385.11,305.66 L385.56,305.81 L386.01,305.96 L386.45,306.11 L386.90,306.25 L387.35,306.39 L387.80,306.52 L388.25,306.65 L388.70,306.78 L389.15,306.91 L389.59,307.03 L390.04,307.14 L390.49,307.25 L390.94,307.36 L391.39,307.47 L391.84,307.57 L392.28,307.66 L392.73,307.76 L393.18,307.85 L393.63,307.93 L394.08,308.01 L394.53,308.09 L394.98,308.16 L395.42,308.23 L395.87,308.30 L396.32,308.36 L396.77,308.42 L397.22,308.47 L397.67,308.53 L398.12,308.57 L398.56,308.62 L399.01,308.66 L399.46,308.70 L399.91,308.73 L400.36,308.76 L400.81,308.79 L401.25,308.82 L401.70,308.84 L402.15,308.86 L402.60,308.87 L403.05,308.89 L403.50,308.90 L403.95,308.91 L404.39,308.91 L404.84,308.92 L405.29,308.92 L405.74,308.92 L406.19,308.92 L406.64,308.91 L407.09,308.91 L407.53,308.90 L407.98,308.89 L408.43,308.87 L408.88,308.86 L409.33,308.85 L409.78,308.83 L410.22,308.81 L410.67,308.79 L411.12,308.77 L411.57,308.75 L412.02,308.73 L412.47,308.70 L412.92,308.68 L413.36,308.65 L413.81,308.63 L414.26,308.60 L414.71,308.57 L415.16,308.55 L415.61,308.52 L416.06,308.49 L416.50,308.46 L416.95,308.43 L417.40,308.40 L417.85,308.37 L418.30,308.34 L418.75,308.31 L419.19,308.28 L419.64,308.25 L420.09,308.22 L420.54,308.19 L420.99,308.16 L421.44,308.13 L421.89,308.10 L422.33,308.07 L422.78,308.04 L423.23,308.01 L423.68,307.98 L424.13,307.95 L424.58,307.93 L425.03,307.90 L425.47,307.87 L425.92,307.84 L426.37,307.82 L426.82,307.79 L427.27,307.77 L427.72,307.74 L428.16,307.72 L428.61,307.70 L429.06,307.67 L429.51,307.65 L429.96,307.63 L430.41,307.61 L430.86,307.59 L431.30,307.57 L431.75,307.55 L432.20,307.53 L432.65,307.52 L433.10,307.50 L433.55,307.48 L434.00,307.47 L434.44,307.45 L434.89,307.44 L435.34,307.43 L435.79,307.41 L436.24,307.40 L436.69,307.39 L437.13,307.38 L437.58,307.37 L438.03,307.36 L438.48,307.35 L438.93,307.34 L439.38,307.33 L439.83,307.33 L440.27,307.32 L440.72,307.31 L441.17,307.31 L441.62,307.30 L442.07,307.30 L442.52,307.29 L442.97,307.29 L443.41,307.28 L443.86,307.28 L444.31,307.28 L444.76,307.28 L445.21,307.28 L445.66,307.28 L446.10,307.27 L446.55,307.27 L447.00,307.27 L447.45,307.28 L447.90,307.28 L448.35,307.28 L448.80,307.28 L449.24,307.28 L449.69,307.28 L450.14,307.28 L450.59,307.29 L451.04,307.29 L451.49,307.29 L451.94,307.30 L452.38,307.30 L452.83,307.30 L453.28,307.31 L453.73,307.31 L454.18,307.31 L454.63,307.32 L455.07,307.32 L455.52,307.33 L455.97,307.33 L456.42,307.34 L456.87,307.34 L457.32,307.35 L457.77,307.35 L458.21,307.36 L458.66,307.36 L459.11,307.37 L459.56,307.37 L460.01,307.38 L460.46,307.38 L460.91,307.39 L461.35,307.39 L461.80,307.40 L462.25,307.40 L462.70,307.41 L463.15,307.41 L463.60,307.42 L464.04,307.42 L464.49,307.43 L464.94,307.43 L465.39,307.44 L465.84,307.44 L466.29,307.45 L466.74,307.45 L467.18,307.45 L467.63,307.46 L468.08,307.46 L468.53,307.47 L468.98,307.47 L469.43,307.47 L469.88,307.48 L470.32,307.48 L470.77,307.49 L471.22,307.49 L471.67,307.49 L472.12,307.50 L472.57,307.50 L473.01,307.50 L473.46,307.51 L473.91,307.51 L474.36,307.51 L483.33,307.55 L492.30,307.55 L501.27,307.53 L510.24,307.52 L519.21,307.51 L528.18,307.50 L537.15,307.50 L546.12,307.51 L555.09,307.51 L564.06,307.51 L573.03,307.51 L582.00,307.51 L590.97,307.51 L599.94,307.51 L608.91,307.51 L617.88,307.51 L626.85,307.51 L635.82,307.51 L644.79,307.51 L653.76,307.51 L662.73,307.51 L671.70,307.51" stroke="#ff0000" stroke-width="2.8" stroke-dasharray="1.8 4" stroke-dashoffset="0"/>
<path d="M43.80,484.90 L44.25,482.73 L44.70,480.46 L45.15,478.09 L45.59,475.63 L46.04,473.09 L46.49,470.47 L46.94,467.79 L47.39,465.04 L47.84,462.25 L48.28,459.40 L48.73,456.52 L49.18,453.60 L49.63,450.65 L50.08,447.69 L50.53,444.71 L50.98,441.71 L51.42,438.71 L51.87,435.71 L52.32,432.72 L52.77,429.73 L53.22,426.76 L53.67,423.80 L54.12,420.87 L54.56,417.96 L55.01,415.08 L55.46,412.23 L55.91,409.41 L56.36,406.63 L56.81,403.89 L57.25,401.20 L57.70,398.54 L58.15,395.94 L58.60,393.39 L59.05,390.88 L59.50,388.43 L59.95,386.03 L60.39,383.69 L60.84,381.40 L61.29,379.18 L61.74,377.01 L62.19,374.90 L62.64,372.85 L63.09,370.86 L63.53,368.93 L63.98,367.07 L64.43,365.26 L64.88,363.52 L65.33,361.84 L65.78,360.22 L66.22,358.66 L66.67,357.16 L67.12,355.73 L67.57,354.35 L68.02,353.03 L68.47,351.78 L68.92,350.58 L69.36,349.44 L69.81,348.35 L70.26,347.33 L70.71,346.36 L71.16,345.44 L71.61,344.57 L72.06,343.76 L72.50,343.00 L72.95,342.29 L73.40,341.63 L73.85,341.02 L74.30,340.45 L74.75,339.93 L75.20,339.45 L75.64,339.02 L76.09,338.63 L76.54,338.28 L76.99,337.97 L77.44,337.69 L77.89,337.46 L78.33,337.26 L78.78,337.09 L79.23,336.96 L79.68,336.86 L80.13,336.79 L80.58,336.75 L81.03,336.74 L81.47,336.75 L81.92,336.79 L82.37,336.85 L82.82,336.94 L83.27,337.05 L83.72,337.18 L84.16,337.33 L84.61,337.50 L85.06,337.69 L85.51,337.89 L85.96,338.11 L86.41,338.34 L86.86,338.59 L87.30,338.85 L87.75,339.12 L88.20,339.40 L88.65,339.69 L89.10,339.99 L89.55,340.29 L90.00,340.61 L90.44,340.93 L90.89,341.26 L91.34,341.59 L91.79,341.92 L92.24,342.26 L92.69,342.60 L93.14,342.94 L93.58,343.29 L94.03,343.63 L94.48,343.98 L94.93,344.32 L95.38,344.66 L95.83,345.01 L96.27,345.35 L96.72,345.69 L97.17,346.02 L97.62,346.35 L98.07,346.68 L98.52,347.01 L98.97,347.33 L99.41,347.64 L99.86,347.95 L100.31,348.26 L100.76,348.56 L101.21,348.85 L101.66,349.14 L102.11,349.43 L102.55,349.70 L103.00,349.97 L103.45,350.24 L103.90,350.50 L104.35,350.75 L104.80,350.99 L105.24,351.23 L105.69,351.46 L106.14,351.68 L106.59,351.90 L107.04,352.11 L107.49,352.31 L107.94,352.50 L108.38,352.69 L108.83,352.87 L109.28,353.04 L109.73,353.21 L110.18,353.37 L110.63,353.52 L111.08,353.67 L111.52,353.81 L111.97,353.94 L112.42,354.07 L112.87,354.19 L113.32,354.30 L113.77,354.41 L114.21,354.51 L114.66,354.60 L115.11,354.69 L115.56,354.77 L116.01,354.85 L116.46,354.92 L116.91,354.99 L117.35,355.05 L117.80,355.10 L118.25,355.16 L118.70,355.20 L119.15,355.24 L119.60,355.28 L120.05,355.31 L120.49,355.34 L120.94,355.36 L121.39,355.38 L121.84,355.40 L122.29,355.41 L122.74,355.42 L123.18,355.43 L123.63,355.43 L124.08,355.43 L124.53,355.42 L124.98,355.42 L125.43,355.41 L125.88,355.39 L126.32,355.38 L126.77,355.36 L127.22,355.34 L127.67,355.32 L128.12,355.30 L128.57,355.28 L129.01,355.25 L129.46,355.22 L129.91,355.19 L130.36,355.16 L130.81,355.13 L131.26,355.10 L131.71,355.06 L132.15,355.03 L132.60,354.99 L133.05,354.95 L133.50,354.92 L133.95,354.88 L134.40,354.84 L134.85,354.80 L135.29,354.76 L135.74,354.72 L136.19,354.68 L136.64,354.64 L137.09,354.60 L137.54,354.56 L137.99,354.52 L138.43,354.48 L138.88,354.45 L139.33,354.41 L139.78,354.37 L140.23,354.33 L140.68,354.29 L141.12,354.25 L141.57,354.22 L142.02,354.18 L142.47,354.14 L142.92,354.11 L143.37,354.07 L143.82,354.04 L144.26,354.01 L144.71,353.97 L145.16,353.94 L145.61,353.91 L146.06,353.88 L146.51,353.85 L146.96,353.82 L147.40,353.79 L147.85,353.77 L148.30,353.74 L148.75,353.71 L149.20,353.69 L149.65,353.67 L150.09,353.64 L150.54,353.62 L150.99,353.60 L151.44,353.58 L151.89,353.56 L152.34,353.54 L152.79,353.52 L153.23,353.50 L153.68,353.48 L154.13,353.47 L154.58,353.45 L155.03,353.44 L155.48,353.42 L155.93,353.41 L156.37,353.40 L156.82,353.39 L157.27,353.38 L157.72,353.37 L158.17,353.36 L158.62,353.35 L159.06,353.34 L159.51,353.33 L159.96,353.32 L160.41,353.32 L160.86,353.31 L161.31,353.31 L161.76,353.30 L162.20,353.30 L162.65,353.29 L163.10,353.29 L163.55,353.29 L164.00,353.28 L164.45,353.28 L164.90,353.28 L165.34,353.28 L165.79,353.28 L166.24,353.28 L166.69,353.28 L167.14,353.28 L167.59,353.28 L168.03,353.28 L168.48,353.28 L168.93,353.28 L169.38,353.29 L169.83,353.29 L170.28,353.29 L170.73,353.29 L171.17,353.30 L171.62,353.30 L172.07,353.30 L172.52,353.30 L172.97,353.31 L173.42,353.31 L173.87,353.32 L174.31,353.32 L174.76,353.32 L175.21,353.33 L175.66,353.33 L176.11,353.34 L176.56,353.34 L177.00,353.35 L177.45,353.35 L177.90,353.35 L178.35,353.36 L178.80,353.36 L179.25,353.37 L179.70,353.37 L180.14,353.38 L180.59,353.38 L181.04,353.39 L181.49,353.39 L181.94,353.39 L182.39,353.40 L182.84,353.40 L183.28,353.41 L183.73,353.41 L184.18,353.42 L184.63,353.42 L185.08,353.43 L185.53,353.43 L185.97,353.43 L186.42,353.44 L186.87,353.44 L187.32,353.44 L187.77,353.45 L188.22,353.45 L188.67,353.46 L189.11,353.46 L189.56,353.46 L190.01,353.47 L190.46,353.47 L190.91,353.47 L191.36,353.47 L191.81,353.48 L192.25,353.48 L192.70,353.48 L193.15,353.49 L193.60,353.49 L194.05,353.49 L194.50,353.49 L194.94,353.50 L195.39,353.50 L195.84,353.50 L196.29,353.50 L196.74,353.50 L197.19,353.51 L197.64,353.51 L198.08,353.51 L198.53,353.51 L198.98,353.51 L199.43,353.51 L199.88,353.51 L200.33,353.52 L200.78,353.52 L201.22,353.52 L201.67,353.52 L202.12,353.52 L202.57,353.52 L203.02,353.52 L203.47,353.52 L203.91,353.52 L204.36,353.52 L204.81,353.52 L205.26,353.52 L205.71,353.52 L206.16,353.52 L206.61,353.52 L207.05,353.53 L207.50,353.53 L207.95,353.53 L208.40,353.53 L208.85,353.53 L209.30,353.53 L209.75,353.53 L210.19,353.53 L210.64,353.53 L211.09,353.53 L211.54,353.52 L211.99,353.52 L212.44,353.52 L212.88,353.52 L213.33,353.52 L213.78,353.52 L214.23,353.52 L214.68,353.52 L215.13,353.52 L215.58,353.52 L216.02,353.52 L216.47,353.52 L216.92,353.52 L217.37,353.52 L217.82,353.52 L218.27,353.52 L218.72,353.52 L219.16,353.52 L219.61,353.52 L220.06,353.52 L220.51,353.52 L220.96,353.52 L221.41,353.52 L221.85,353.52 L222.30,353.51 L222.75,353.51 L223.20,353.51 L226.79,353.51 L230.38,353.51 L233.96,353.50 L237.55,353.50 L241.14,353.50 L244.73,353.50 L248.32,353.50 L251.90,353.50 L255.49,353.50 L259.08,353.50 L262.67,353.50 L266.26,353.50 L269.84,353.50 L273.43,353.50 L277.02,353.50 L280.61,353.50 L284.20,353.50 L287.78,353.50 L291.37,353.50 L294.96,353.50 L298.55,353.50 L302.14,353.50 L305.72,353.50 L309.31,353.50 L312.90,353.50 L316.49,353.50 L320.08,353.50 L320.52,353.50 L320.97,353.50 L321.42,353.50 L321.87,353.50 L322.32,353.50 L322.77,353.50 L323.22,353.50 L323.66,353.50 L324.11,353.31 L324.56,353.08 L325.01,352.82 L325.46,352.52 L325.91,352.18 L326.36,351.81 L326.80,351.40 L327.25,350.96 L327.70,350.48 L328.15,349.96 L328.60,349.41 L329.05,348.83 L329.49,348.21 L329.94,347.57 L330.39,346.89 L330.84,346.18 L331.29,345.44 L331.74,344.67 L332.19,343.88 L332.63,343.06 L333.08,342.22 L333.53,341.36 L333.98,340.48 L334.43,339.58 L334.88,338.67 L335.33,337.74 L335.77,336.80 L336.22,335.86 L336.67,334.90 L337.12,333.94 L337.57,332.97 L338.02,332.00 L338.46,331.03 L338.91,330.07 L339.36,329.10 L339.81,328.14 L340.26,327.19 L340.71,326.24 L341.16,325.31 L341.60,324.38 L342.05,323.46 L342.50,322.56 L342.95,321.67 L343.40,320.80 L343.85,319.94 L344.30,319.10 L344.74,318.28 L345.19,317.47 L345.64,316.69 L346.09,315.92 L346.54,315.17 L346.99,314.45 L347.43,313.74 L347.88,313.06 L348.33,312.40 L348.78,311.75 L349.23,311.13 L349.68,310.54 L350.13,309.96 L350.57,309.41 L351.02,308.87 L351.47,308.36 L351.92,307.87 L352.37,307.41 L352.82,306.96 L353.27,306.53 L353.71,306.13 L354.16,305.74 L354.61,305.38 L355.06,305.04 L355.51,304.71 L355.96,304.40 L356.40,304.12 L356.85,303.85 L357.30,303.60 L357.75,303.36 L358.20,303.15 L358.65,302.95 L359.10,302.76 L359.54,302.60 L359.99,302.44 L360.44,302.31 L360.89,302.18 L361.34,302.07 L361.79,301.98 L362.24,301.90 L362.68,301.82 L363.13,301.77 L363.58,301.72 L364.03,301.69 L364.48,301.66 L364.93,301.65 L365.37,301.64 L365.82,301.65 L366.27,301.66 L366.72,301.68 L367.17,301.71 L367.62,301.75 L368.07,301.80 L368.51,301.85 L368.96,301.91 L369.41,301.98 L369.86,302.05 L370.31,302.12 L370.76,302.21 L371.21,302.29 L371.65,302.38 L372.10,302.48 L372.55,302.58 L373.00,302.68 L373.45,302.78 L373.90,302.89 L374.34,303.00 L374.79,303.11 L375.24,303.23 L375.69,303.34 L376.14,303.46 L376.59,303.58 L377.04,303.70 L377.48,303.82 L377.93,303.94 L378.38,304.06 L378.83,304.18 L379.28,304.30 L379.73,304.42 L380.18,304.54 L380.62,304.66 L381.07,304.78 L381.52,304.89 L381.97,305.01 L382.42,305.12 L382.87,305.24 L383.31,305.35 L383.76,305.46 L384.21,305.57 L384.66,305.68 L385.11,305.78 L385.56,305.89 L386.01,305.99 L386.45,306.09 L386.90,306.18 L387.35,306.28 L387.80,306.37 L388.25,306.46 L388.70,306.55 L389.15,306.63 L389.59,306.72 L390.04,306.80 L390.49,306.87 L390.94,306.95 L391.39,307.02 L391.84,307.09 L392.28,307.16 L392.73,307.23 L393.18,307.29 L393.63,307.35 L394.08,307.41 L394.53,307.47 L394.98,307.52 L395.42,307.57 L395.87,307.62 L396.32,307.66 L396.77,307.71 L397.22,307.75 L397.67,307.79 L398.12,307.83 L398.56,307.86 L399.01,307.90 L399.46,307.93 L399.91,307.96 L400.36,307.98 L400.81,308.01 L401.25,308.03 L401.70,308.05 L402.15,308.07 L402.60,308.09 L403.05,308.11 L403.50,308.12 L403.95,308.13 L404.39,308.14 L404.84,308.15 L405.29,308.16 L405.74,308.17 L406.19,308.17 L406.64,308.18 L407.09,308.18 L407.53,308.18 L407.98,308.18 L408.43,308.18 L408.88,308.18 L409.33,308.18 L409.78,308.18 L410.22,308.17 L410.67,308.17 L411.12,308.16 L411.57,308.16 L412.02,308.15 L412.47,308.14 L412.92,308.13 L413.36,308.12 L413.81,308.11 L414.26,308.10 L414.71,308.09 L415.16,308.08 L415.61,308.07 L416.06,308.06 L416.50,308.04 L416.95,308.03 L417.40,308.02 L417.85,308.01 L418.30,307.99 L418.75,307.98 L419.19,307.97 L419.64,307.95 L420.09,307.94 L420.54,307.92 L420.99,307.91 L421.44,307.90 L421.89,307.88 L422.33,307.87 L422.78,307.85 L423.23,307.84 L423.68,307.83 L424.13,307.81 L424.58,307.80 L425.03,307.79 L425.47,307.77 L425.92,307.76 L426.37,307.75 L426.82,307.74 L427.27,307.72 L427.72,307.71 L428.16,307.70 L428.61,307.69 L429.06,307.68 L429.51,307.66 L429.96,307.65 L430.41,307.64 L430.86,307.63 L431.30,307.62 L431.75,307.61 L432.20,307.60 L432.65,307.59 L433.10,307.58 L433.55,307.58 L434.00,307.57 L434.44,307.56 L434.89,307.55 L435.34,307.54 L435.79,307.54 L436.24,307.53 L436.69,307.52 L437.13,307.52 L437.58,307.51 L438.03,307.50 L438.48,307.50 L438.93,307.49 L439.38,307.49 L439.83,307.48 L440.27,307.48 L440.72,307.47 L441.17,307.47 L441.62,307.47 L442.07,307.46 L442.52,307.46 L442.97,307.46 L443.41,307.45 L443.86,307.45 L444.31,307.45 L444.76,307.45 L445.21,307.44 L445.66,307.44 L446.10,307.44 L446.55,307.44 L447.00,307.44 L447.45,307.44 L447.90,307.44 L448.35,307.43 L448.80,307.43 L449.24,307.43 L449.69,307.43 L450.14,307.43 L450.59,307.43 L451.04,307.43 L451.49,307.43 L451.94,307.43 L452.38,307.43 L452.83,307.43 L453.28,307.43 L453.73,307.43 L454.18,307.44 L454.63,307.44 L455.07,307.44 L455.52,307.44 L455.97,307.44 L456.42,307.44 L456.87,307.44 L457.32,307.44 L457.77,307.44 L458.21,307.45 L458.66,307.45 L459.11,307.45 L459.56,307.45 L460.01,307.45 L460.46,307.45 L460.91,307.45 L461.35,307.46 L461.80,307.46 L462.25,307.46 L462.70,307.46 L463.15,307.46 L463.60,307.46 L464.04,307.47 L464.49,307.47 L464.94,307.47 L465.39,307.47 L465.84,307.47 L466.29,307.47 L466.74,307.47 L467.18,307.48 L467.63,307.48 L468.08,307.48 L468.53,307.48 L468.98,307.48 L469.43,307.48 L469.88,307.49 L470.32,307.49 L470.77,307.49 L471.22,307.49 L471.67,307.49 L472.12,307.49 L472.57,307.49 L473.01,307.49 L473.46,307.50 L473.91,307.50 L474.36,307.50 L483.33,307.51 L492.30,307.52 L501.27,307.52 L510.24,307.51 L519.21,307.51 L528.18,307.51 L537.15,307.51 L546.12,307.51 L555.09,307.51 L564.06,307.51 L573.03,307.51 L582.00,307.51 L590.97,307.51 L599.94,307.51 L608.91,307.51 L617.88,307.51 L626.85,307.51 L635.82,307.51 L644.79,307.51 L653.76,307.51 L662.73,307.51 L671.70,307.51" stroke="#00ff00" stroke-width="2.8" stroke-dasharray="14.3 8.9" stroke-dashoffset="0"/>
<path d="M43.80,484.90 L44.25,482.73 L44.70,480.46 L45.15,478.08 L45.59,475.60 L46.04,473.04 L46.49,470.41 L46.94,467.70 L47.39,464.92 L47.84,462.09 L48.28,459.21 L48.73,456.28 L49.18,453.32 L49.63,450.33 L50.08,447.31 L50.53,444.27 L50.98,441.22 L51.42,438.16 L51.87,435.09 L52.32,432.03 L52.77,428.97 L53.22,425.93 L53.67,422.90 L54.12,419.89 L54.56,416.90 L55.01,413.94 L55.46,411.00 L55.91,408.11 L56.36,405.24 L56.81,402.42 L57.25,399.64 L57.70,396.90 L58.15,394.21 L58.60,391.57 L59.05,388.98 L59.50,386.45 L59.95,383.97 L60.39,381.54 L60.84,379.18 L61.29,376.87 L61.74,374.62 L62.19,372.44 L62.64,370.33 L63.09,368.28 L63.53,366.29 L63.98,364.37 L64.43,362.51 L64.88,360.71 L65.33,358.98 L65.78,357.31 L66.22,355.71 L66.67,354.16 L67.12,352.69 L67.57,351.27 L68.02,349.92 L68.47,348.63 L68.92,347.40 L69.36,346.23 L69.81,345.13 L70.26,344.08 L70.71,343.09 L71.16,342.15 L71.61,341.28 L72.06,340.46 L72.50,339.69 L72.95,338.97 L73.40,338.31 L73.85,337.70 L74.30,337.14 L74.75,336.63 L75.20,336.16 L75.64,335.74 L76.09,335.37 L76.54,335.04 L76.99,334.75 L77.44,334.50 L77.89,334.29 L78.33,334.12 L78.78,333.98 L79.23,333.88 L79.68,333.82 L80.13,333.79 L80.58,333.78 L81.03,333.81 L81.47,333.87 L81.92,333.96 L82.37,334.07 L82.82,334.20 L83.27,334.36 L83.72,334.54 L84.16,334.74 L84.61,334.97 L85.06,335.21 L85.51,335.47 L85.96,335.74 L86.41,336.03 L86.86,336.34 L87.30,336.65 L87.75,336.98 L88.20,337.32 L88.65,337.67 L89.10,338.03 L89.55,338.40 L90.00,338.78 L90.44,339.16 L90.89,339.54 L91.34,339.93 L91.79,340.33 L92.24,340.73 L92.69,341.13 L93.14,341.53 L93.58,341.93 L94.03,342.33 L94.48,342.74 L94.93,343.14 L95.38,343.54 L95.83,343.93 L96.27,344.33 L96.72,344.72 L97.17,345.11 L97.62,345.49 L98.07,345.87 L98.52,346.24 L98.97,346.61 L99.41,346.98 L99.86,347.33 L100.31,347.68 L100.76,348.03 L101.21,348.37 L101.66,348.70 L102.11,349.02 L102.55,349.33 L103.00,349.64 L103.45,349.94 L103.90,350.23 L104.35,350.52 L104.80,350.79 L105.24,351.06 L105.69,351.32 L106.14,351.57 L106.59,351.81 L107.04,352.05 L107.49,352.27 L107.94,352.49 L108.38,352.70 L108.83,352.90 L109.28,353.09 L109.73,353.27 L110.18,353.45 L110.63,353.61 L111.08,353.77 L111.52,353.92 L111.97,354.07 L112.42,354.20 L112.87,354.33 L113.32,354.45 L113.77,354.56 L114.21,354.67 L114.66,354.77 L115.11,354.86 L115.56,354.94 L116.01,355.02 L116.46,355.09 L116.91,355.16 L117.35,355.22 L117.80,355.27 L118.25,355.32 L118.70,355.36 L119.15,355.39 L119.60,355.42 L120.05,355.45 L120.49,355.47 L120.94,355.49 L121.39,355.50 L121.84,355.51 L122.29,355.51 L122.74,355.51 L123.18,355.50 L123.63,355.49 L124.08,355.48 L124.53,355.46 L124.98,355.44 L125.43,355.42 L125.88,355.40 L126.32,355.37 L126.77,355.34 L127.22,355.31 L127.67,355.27 L128.12,355.23 L128.57,355.19 L129.01,355.15 L129.46,355.11 L129.91,355.07 L130.36,355.02 L130.81,354.98 L131.26,354.93 L131.71,354.88 L132.15,354.83 L132.60,354.78 L133.05,354.73 L133.50,354.67 L133.95,354.62 L134.40,354.57 L134.85,354.52 L135.29,354.46 L135.74,354.41 L136.19,354.36 L136.64,354.30 L137.09,354.25 L137.54,354.20 L137.99,354.15 L138.43,354.09 L138.88,354.04 L139.33,353.99 L139.78,353.94 L140.23,353.89 L140.68,353.84 L141.12,353.79 L141.57,353.75 L142.02,353.70 L142.47,353.65 L142.92,353.61 L143.37,353.57 L143.82,353.52 L144.26,353.48 L144.71,353.44 L145.16,353.40 L145.61,353.36 L146.06,353.32 L146.51,353.28 L146.96,353.25 L147.40,353.21 L147.85,353.18 L148.30,353.15 L148.75,353.12 L149.20,353.08 L149.65,353.06 L150.09,353.03 L150.54,353.00 L150.99,352.97 L151.44,352.95 L151.89,352.93 L152.34,352.90 L152.79,352.88 L153.23,352.86 L153.68,352.84 L154.13,352.82 L154.58,352.81 L155.03,352.79 L155.48,352.77 L155.93,352.76 L156.37,352.75 L156.82,352.73 L157.27,352.72 L157.72,352.71 L158.17,352.70 L158.62,352.69 L159.06,352.68 L159.51,352.68 L159.96,352.67 L160.41,352.66 L160.86,352.66 L161.31,352.65 L161.76,352.65 L162.20,352.65 L162.65,352.64 L163.10,352.64 L163.55,352.64 L164.00,352.64 L164.45,352.64 L164.90,352.64 L165.34,352.64 L165.79,352.64 L166.24,352.64 L166.69,352.65 L167.14,352.65 L167.59,352.65 L168.03,352.66 L168.48,352.66 L168.93,352.66 L169.38,352.67 L169.83,352.67 L170.28,352.68 L170.73,352.68 L171.17,352.69 L171.62,352.69 L172.07,352.70 L172.52,352.71 L172.97,352.71 L173.42,352.72 L173.87,352.73 L174.31,352.73 L174.76,352.74 L175.21,352.75 L175.66,352.75 L176.11,352.76 L176.56,352.77 L177.00,352.77 L177.45,352.78 L177.90,352.79 L178.35,352.79 L178.80,352.80 L179.25,352.81 L179.70,352.82 L180.14,352.82 L180.59,352.83 L181.04,352.84 L181.49,352.84 L181.94,352.85 L182.39,352.86 L182.84,352.86 L183.28,352.87 L183.73,352.87 L184.18,352.88 L184.63,352.89 L185.08,352.89 L185.53,352.90 L185.97,352.90 L186.42,352.91 L186.87,352.92 L187.32,352.92 L187.77,352.93 L188.22,352.93 L188.67,352.94 L189.11,352.94 L189.56,352.94 L190.01,352.95 L190.46,352.95 L190.91,352.96 L191.36,352.96 L191.81,352.97 L192.25,352.97 L192.70,352.97 L193.15,352.98 L193.60,352.98 L194.05,352.98 L194.50,352.98 L194.94,352.99 L195.39,352.99 L195.84,352.99 L196.29,353.00 L196.74,353.00 L197.19,353.00 L197.64,353.00 L198.08,353.00 L198.53,353.01 L198.98,353.01 L199.43,353.01 L199.88,353.01 L200.33,353.01 L200.78,353.01 L201.22,353.01 L201.67,353.01 L202.12,353.02 L202.57,353.02 L203.02,353.02 L203.47,353.02 L203.91,353.02 L204.36,353.02 L204.81,353.02 L205.26,353.02 L205.71,353.02 L206.16,353.02 L206.61,353.02 L207.05,353.02 L207.50,353.02 L207.95,353.02 L208.40,353.02 L208.85,353.02 L209.30,353.02 L209.75,353.02 L210.19,353.02 L210.64,353.02 L211.09,353.02 L211.54,353.01 L211.99,353.01 L212.44,353.01 L212.88,353.01 L213.33,353.01 L213.78,353.01 L214.23,353.01 L214.68,353.01 L215.13,353.01 L215.58,353.01 L216.02,353.01 L216.47,353.01 L216.92,353.01 L217.37,353.00 L217.82,353.00 L218.27,353.00 L218.72,353.00 L219.16,353.00 L219.61,353.00 L220.06,353.00 L220.51,353.00 L220.96,353.00 L221.41,353.00 L221.85,353.00 L222.30,352.99 L222.75,352.99 L223.20,352.99 L226.79,352.99 L230.38,352.98 L233.96,352.98 L237.55,352.97 L241.14,352.97 L244.73,352.97 L248.32,352.97 L251.90,352.97 L255.49,352.97 L259.08,352.97 L262.67,352.97 L266.26,352.97 L269.84,352.97 L273.43,352.97 L277.02,352.97 L280.61,352.97 L284.20,352.98 L287.78,352.98 L291.37,352.98 L294.96,352.98 L298.55,352.98 L302.14,352.97 L305.72,352.97 L309.31,352.97 L312.90,352.97 L316.49,352.97 L320.08,352.97 L320.52,352.97 L320.97,352.97 L321.42,352.97 L321.87,352.97 L322.32,352.97 L322.77,352.97 L323.22,352.97 L323.66,352.97 L324.11,352.78 L324.56,352.56 L325.01,352.30 L325.46,352.00 L325.91,351.66 L326.36,351.29 L326.80,350.88 L327.25,350.44 L327.70,349.96 L328.15,349.45 L328.60,348.90 L329.05,348.31 L329.49,347.69 L329.94,347.04 L330.39,346.36 L330.84,345.64 L331.29,344.90 L331.74,344.12 L332.19,343.32 L332.63,342.50 L333.08,341.65 L333.53,340.78 L333.98,339.88 L334.43,338.97 L334.88,338.05 L335.33,337.11 L335.77,336.15 L336.22,335.19 L336.67,334.21 L337.12,333.23 L337.57,332.25 L338.02,331.26 L338.46,330.27 L338.91,329.28 L339.36,328.29 L339.81,327.31 L340.26,326.33 L340.71,325.36 L341.16,324.40 L341.60,323.45 L342.05,322.51 L342.50,321.58 L342.95,320.67 L343.40,319.77 L343.85,318.89 L344.30,318.03 L344.74,317.18 L345.19,316.35 L345.64,315.54 L346.09,314.75 L346.54,313.98 L346.99,313.23 L347.43,312.50 L347.88,311.80 L348.33,311.11 L348.78,310.45 L349.23,309.81 L349.68,309.20 L350.13,308.60 L350.57,308.03 L351.02,307.49 L351.47,306.96 L351.92,306.46 L352.37,305.98 L352.82,305.52 L353.27,305.08 L353.71,304.67 L354.16,304.27 L354.61,303.90 L355.06,303.55 L355.51,303.22 L355.96,302.91 L356.40,302.62 L356.85,302.35 L357.30,302.09 L357.75,301.86 L358.20,301.65 L358.65,301.45 L359.10,301.27 L359.54,301.10 L359.99,300.96 L360.44,300.82 L360.89,300.71 L361.34,300.60 L361.79,300.52 L362.24,300.44 L362.68,300.38 L363.13,300.34 L363.58,300.30 L364.03,300.28 L364.48,300.27 L364.93,300.27 L365.37,300.28 L365.82,300.30 L366.27,300.33 L366.72,300.37 L367.17,300.42 L367.62,300.47 L368.07,300.53 L368.51,300.61 L368.96,300.68 L369.41,300.77 L369.86,300.86 L370.31,300.96 L370.76,301.06 L371.21,301.16 L371.65,301.27 L372.10,301.39 L372.55,301.51 L373.00,301.63 L373.45,301.76 L373.90,301.89 L374.34,302.02 L374.79,302.15 L375.24,302.29 L375.69,302.42 L376.14,302.56 L376.59,302.70 L377.04,302.84 L377.48,302.98 L377.93,303.12 L378.38,303.26 L378.83,303.40 L379.28,303.54 L379.73,303.68 L380.18,303.82 L380.62,303.96 L381.07,304.10 L381.52,304.23 L381.97,304.37 L382.42,304.50 L382.87,304.63 L383.31,304.76 L383.76,304.89 L384.21,305.01 L384.66,305.13 L385.11,305.25 L385.56,305.37 L386.01,305.49 L386.45,305.60 L386.90,305.71 L387.35,305.82 L387.80,305.92 L388.25,306.03 L388.70,306.12 L389.15,306.22 L389.59,306.31 L390.04,306.41 L390.49,306.49 L390.94,306.58 L391.39,306.66 L391.84,306.74 L392.28,306.81 L392.73,306.89 L393.18,306.96 L393.63,307.02 L394.08,307.09 L394.53,307.15 L394.98,307.21 L395.42,307.26 L395.87,307.32 L396.32,307.37 L396.77,307.41 L397.22,307.46 L397.67,307.50 L398.12,307.54 L398.56,307.58 L399.01,307.61 L399.46,307.64 L399.91,307.67 L400.36,307.70 L400.81,307.73 L401.25,307.75 L401.70,307.77 L402.15,307.79 L402.60,307.80 L403.05,307.82 L403.50,307.83 L403.95,307.84 L404.39,307.85 L404.84,307.86 L405.29,307.86 L405.74,307.87 L406.19,307.87 L406.64,307.87 L407.09,307.87 L407.53,307.87 L407.98,307.87 L408.43,307.86 L408.88,307.86 L409.33,307.85 L409.78,307.84 L410.22,307.83 L410.67,307.82 L411.12,307.81 L411.57,307.80 L412.02,307.79 L412.47,307.78 L412.92,307.76 L413.36,307.75 L413.81,307.73 L414.26,307.72 L414.71,307.70 L415.16,307.68 L415.61,307.67 L416.06,307.65 L416.50,307.63 L416.95,307.62 L417.40,307.60 L417.85,307.58 L418.30,307.56 L418.75,307.54 L419.19,307.52 L419.64,307.51 L420.09,307.49 L420.54,307.47 L420.99,307.45 L421.44,307.43 L421.89,307.41 L422.33,307.39 L422.78,307.38 L423.23,307.36 L423.68,307.34 L424.13,307.32 L424.58,307.31 L425.03,307.29 L425.47,307.27 L425.92,307.25 L426.37,307.24 L426.82,307.22 L427.27,307.21 L427.72,307.19 L428.16,307.18 L428.61,307.16 L429.06,307.15 L429.51,307.13 L429.96,307.12 L430.41,307.11 L430.86,307.09 L431.30,307.08 L431.75,307.07 L432.20,307.06 L432.65,307.04 L433.10,307.03 L433.55,307.02 L434.00,307.01 L434.44,307.00 L434.89,306.99 L435.34,306.98 L435.79,306.98 L436.24,306.97 L436.69,306.96 L437.13,306.95 L437.58,306.94 L438.03,306.94 L438.48,306.93 L438.93,306.93 L439.38,306.92 L439.83,306.91 L440.27,306.91 L440.72,306.90 L441.17,306.90 L441.62,306.90 L442.07,306.89 L442.52,306.89 L442.97,306.89 L443.41,306.88 L443.86,306.88 L444.31,306.88 L444.76,306.88 L445.21,306.87 L445.66,306.87 L446.10,306.87 L446.55,306.87 L447.00,306.87 L447.45,306.87 L447.90,306.87 L448.35,306.87 L448.80,306.87 L449.24,306.87 L449.69,306.87 L450.14,306.87 L450.59,306.87 L451.04,306.87 L451.49,306.87 L451.94,306.87 L452.38,306.87 L452.83,306.87 L453.28,306.88 L453.73,306.88 L454.18,306.88 L454.63,306.88 L455.07,306.88 L455.52,306.88 L455.97,306.89 L456.42,306.89 L456.87,306.89 L457.32,306.89 L457.77,306.90 L458.21,306.90 L458.66,306.90 L459.11,306.90 L459.56,306.90 L460.01,306.91 L460.46,306.91 L460.91,306.91 L461.35,306.91 L461.80,306.92 L462.25,306.92 L462.70,306.92 L463.15,306.92 L463.60,306.93 L464.04,306.93 L464.49,306.93 L464.94,306.93 L465.39,306.94 L465.84,306.94 L466.29,306.94 L466.74,306.94 L467.18,306.95 L467.63,306.95 L468.08,306.95 L468.53,306.95 L468.98,306.95 L469.43,306.96 L469.88,306.96 L470.32,306.96 L470.77,306.96 L471.22,306.96 L471.67,306.97 L472.12,306.97 L472.57,306.97 L473.01,306.97 L473.46,306.97 L473.91,306.97 L474.36,306.98 L483.33,307.00 L492.30,307.00 L501.27,307.00 L510.24,306.99 L519.21,306.98 L528.18,306.98 L537.15,306.98 L546.12,306.98 L555.09,306.98 L564.06,306.98 L573.03,306.98 L582.00,306.98 L590.97,306.98 L599.94,306.98 L608.91,306.98 L617.88,306.98 L626.85,306.98 L635.82,306.98 L644.79,306.98 L653.76,306.98 L662.73,306.98 L671.70,306.98" stroke="#ff00ff" stroke-width="2.8" stroke-dasharray="11.5 4.2 3.3 4.2" stroke-dashoffset="0"/>
<path d="M43.80,484.90 L44.25,482.73 L44.70,480.48 L45.15,478.14 L45.59,475.74 L46.04,473.26 L46.49,470.73 L46.94,468.15 L47.39,465.52 L47.84,462.85 L48.28,460.16 L48.73,457.43 L49.18,454.69 L49.63,451.93 L50.08,449.17 L50.53,446.39 L50.98,443.62 L51.42,440.85 L51.87,438.09 L52.32,435.35 L52.77,432.61 L53.22,429.90 L53.67,427.21 L54.12,424.55 L54.56,421.91 L55.01,419.31 L55.46,416.73 L55.91,414.20 L56.36,411.70 L56.81,409.24 L57.25,406.83 L57.70,404.45 L58.15,402.12 L58.60,399.84 L59.05,397.60 L59.50,395.42 L59.95,393.28 L60.39,391.19 L60.84,389.15 L61.29,387.17 L61.74,385.23 L62.19,383.35 L62.64,381.51 L63.09,379.73 L63.53,378.01 L63.98,376.33 L64.43,374.71 L64.88,373.14 L65.33,371.62 L65.78,370.15 L66.22,368.73 L66.67,367.37 L67.12,366.05 L67.57,364.78 L68.02,363.57 L68.47,362.40 L68.92,361.27 L69.36,360.20 L69.81,359.17 L70.26,358.18 L70.71,357.24 L71.16,356.35 L71.61,355.49 L72.06,354.68 L72.50,353.91 L72.95,353.18 L73.40,352.48 L73.85,351.83 L74.30,351.21 L74.75,350.63 L75.20,350.08 L75.64,349.57 L76.09,349.09 L76.54,348.65 L76.99,348.23 L77.44,347.84 L77.89,347.49 L78.33,347.16 L78.78,346.86 L79.23,346.58 L79.68,346.34 L80.13,346.11 L80.58,345.91 L81.03,345.73 L81.47,345.57 L81.92,345.44 L82.37,345.32 L82.82,345.23 L83.27,345.15 L83.72,345.09 L84.16,345.04 L84.61,345.01 L85.06,345.00 L85.51,345.00 L85.96,345.02 L86.41,345.04 L86.86,345.08 L87.30,345.14 L87.75,345.20 L88.20,345.27 L88.65,345.35 L89.10,345.45 L89.55,345.54 L90.00,345.65 L90.44,345.77 L90.89,345.89 L91.34,346.02 L91.79,346.15 L92.24,346.29 L92.69,346.43 L93.14,346.58 L93.58,346.73 L94.03,346.89 L94.48,347.05 L94.93,347.21 L95.38,347.38 L95.83,347.54 L96.27,347.71 L96.72,347.88 L97.17,348.05 L97.62,348.23 L98.07,348.40 L98.52,348.57 L98.97,348.74 L99.41,348.92 L99.86,349.09 L100.31,349.26 L100.76,349.44 L101.21,349.61 L101.66,349.78 L102.11,349.95 L102.55,350.12 L103.00,350.28 L103.45,350.45 L103.90,350.61 L104.35,350.77 L104.80,350.93 L105.24,351.09 L105.69,351.24 L106.14,351.40 L106.59,351.55 L107.04,351.70 L107.49,351.85 L107.94,351.99 L108.38,352.13 L108.83,352.27 L109.28,352.41 L109.73,352.54 L110.18,352.67 L110.63,352.80 L111.08,352.93 L111.52,353.05 L111.97,353.17 L112.42,353.29 L112.87,353.41 L113.32,353.52 L113.77,353.63 L114.21,353.74 L114.66,353.84 L115.11,353.94 L115.56,354.04 L116.01,354.14 L116.46,354.23 L116.91,354.32 L117.35,354.41 L117.80,354.49 L118.25,354.58 L118.70,354.65 L119.15,354.73 L119.60,354.80 L120.05,354.88 L120.49,354.94 L120.94,355.01 L121.39,355.07 L121.84,355.13 L122.29,355.19 L122.74,355.24 L123.18,355.29 L123.63,355.34 L124.08,355.39 L124.53,355.43 L124.98,355.47 L125.43,355.51 L125.88,355.54 L126.32,355.57 L126.77,355.60 L127.22,355.63 L127.67,355.66 L128.12,355.68 L128.57,355.70 L129.01,355.71 L129.46,355.73 L129.91,355.74 L130.36,355.75 L130.81,355.76 L131.26,355.76 L131.71,355.77 L132.15,355.77 L132.60,355.77 L133.05,355.76 L133.50,355.76 L133.95,355.75 L134.40,355.74 L134.85,355.73 L135.29,355.72 L135.74,355.70 L136.19,355.68 L136.64,355.66 L137.09,355.64 L137.54,355.62 L137.99,355.60 L138.43,355.58 L138.88,355.55 L139.33,355.52 L139.78,355.49 L140.23,355.47 L140.68,355.43 L141.12,355.40 L141.57,355.37 L142.02,355.34 L142.47,355.30 L142.92,355.27 L143.37,355.23 L143.82,355.20 L144.26,355.16 L144.71,355.12 L145.16,355.09 L145.61,355.05 L146.06,355.01 L146.51,354.97 L146.96,354.93 L147.40,354.90 L147.85,354.86 L148.30,354.82 L148.75,354.78 L149.20,354.74 L149.65,354.70 L150.09,354.67 L150.54,354.63 L150.99,354.59 L151.44,354.56 L151.89,354.52 L152.34,354.48 L152.79,354.45 L153.23,354.41 L153.68,354.38 L154.13,354.35 L154.58,354.31 L155.03,354.28 L155.48,354.25 L155.93,354.22 L156.37,354.19 L156.82,354.16 L157.27,354.13 L157.72,354.10 L158.17,354.07 L158.62,354.05 L159.06,354.02 L159.51,354.00 L159.96,353.97 L160.41,353.95 L160.86,353.92 L161.31,353.90 L161.76,353.88 L162.20,353.86 L162.65,353.84 L163.10,353.82 L163.55,353.80 L164.00,353.78 L164.45,353.77 L164.90,353.75 L165.34,353.73 L165.79,353.72 L166.24,353.71 L166.69,353.69 L167.14,353.68 L167.59,353.67 L168.03,353.65 L168.48,353.64 L168.93,353.63 L169.38,353.62 L169.83,353.61 L170.28,353.60 L170.73,353.59 L171.17,353.59 L171.62,353.58 L172.07,353.57 L172.52,353.56 L172.97,353.56 L173.42,353.55 L173.87,353.54 L174.31,353.54 L174.76,353.53 L175.21,353.53 L175.66,353.52 L176.11,353.52 L176.56,353.52 L177.00,353.51 L177.45,353.51 L177.90,353.51 L178.35,353.50 L178.80,353.50 L179.25,353.50 L179.70,353.50 L180.14,353.50 L180.59,353.49 L181.04,353.49 L181.49,353.49 L181.94,353.49 L182.39,353.49 L182.84,353.49 L183.28,353.49 L183.73,353.48 L184.18,353.48 L184.63,353.48 L185.08,353.48 L185.53,353.48 L185.97,353.48 L186.42,353.48 L186.87,353.48 L187.32,353.48 L187.77,353.48 L188.22,353.48 L188.67,353.48 L189.11,353.48 L189.56,353.48 L190.01,353.48 L190.46,353.48 L190.91,353.48 L191.36,353.48 L191.81,353.48 L192.25,353.48 L192.70,353.48 L193.15,353.48 L193.60,353.48 L194.05,353.49 L194.50,353.49 L194.94,353.49 L195.39,353.49 L195.84,353.49 L196.29,353.49 L196.74,353.49 L197.19,353.49 L197.64,353.49 L198.08,353.49 L198.53,353.49 L198.98,353.49 L199.43,353.49 L199.88,353.49 L200.33,353.49 L200.78,353.49 L201.22,353.49 L201.67,353.49 L202.12,353.49 L202.57,353.49 L203.02,353.49 L203.47,353.49 L203.91,353.49 L204.36,353.49 L204.81,353.49 L205.26,353.50 L205.71,353.50 L206.16,353.50 L206.61,353.50 L207.05,353.50 L207.50,353.50 L207.95,353.50 L208.40,353.50 L208.85,353.50 L209.30,353.50 L209.75,353.50 L210.19,353.50 L210.64,353.50 L211.09,353.50 L211.54,353.50 L211.99,353.50 L212.44,353.50 L212.88,353.50 L213.33,353.50 L213.78,353.50 L214.23,353.50 L214.68,353.50 L215.13,353.50 L215.58,353.50 L216.02,353.50 L216.47,353.50 L216.92,353.50 L217.37,353.50 L217.82,353.50 L218.27,353.50 L218.72,353.50 L219.16,353.50 L219.61,353.50 L220.06,353.50 L220.51,353.50 L220.96,353.50 L221.41,353.50 L221.85,353.50 L222.30,353.50 L222.75,353.50 L223.20,353.50 L226.79,353.50 L230.38,353.50 L233.96,353.50 L237.55,353.50 L241.14,353.50 L244.73,353.50 L248.32,353.50 L251.90,353.50 L255.49,353.50 L259.08,353.50 L262.67,353.50 L266.26,353.50 L269.84,353.50 L273.43,353.50 L277.02,353.50 L280.61,353.50 L284.20,353.50 L287.78,353.50 L291.37,353.50 L294.96,353.50 L298.55,353.50 L302.14,353.50 L305.72,353.50 L309.31,353.50 L312.90,353.50 L316.49,353.50 L320.08,353.50 L320.52,353.50 L320.97,353.50 L321.42,353.50 L321.87,353.50 L322.32,353.50 L322.77,353.50 L323.22,353.50 L323.66,353.50 L324.11,353.38 L324.56,353.22 L325.01,353.02 L325.46,352.79 L325.91,352.52 L326.36,352.21 L326.80,351.87 L327.25,351.50 L327.70,351.09 L328.15,350.65 L328.60,350.18 L329.05,349.68 L329.49,349.15 L329.94,348.60 L330.39,348.01 L330.84,347.40 L331.29,346.77 L331.74,346.11 L332.19,345.44 L332.63,344.74 L333.08,344.02 L333.53,343.28 L333.98,342.53 L334.43,341.76 L334.88,340.98 L335.33,340.19 L335.77,339.39 L336.22,338.58 L336.67,337.76 L337.12,336.93 L337.57,336.10 L338.02,335.27 L338.46,334.44 L338.91,333.60 L339.36,332.77 L339.81,331.94 L340.26,331.11 L340.71,330.29 L341.16,329.47 L341.60,328.66 L342.05,327.85 L342.50,327.06 L342.95,326.27 L343.40,325.49 L343.85,324.72 L344.30,323.97 L344.74,323.23 L345.19,322.49 L345.64,321.78 L346.09,321.07 L346.54,320.38 L346.99,319.71 L347.43,319.05 L347.88,318.40 L348.33,317.77 L348.78,317.16 L349.23,316.56 L349.68,315.98 L350.13,315.41 L350.57,314.86 L351.02,314.33 L351.47,313.81 L351.92,313.31 L352.37,312.83 L352.82,312.36 L353.27,311.91 L353.71,311.47 L354.16,311.06 L354.61,310.65 L355.06,310.26 L355.51,309.89 L355.96,309.54 L356.40,309.19 L356.85,308.87 L357.30,308.56 L357.75,308.26 L358.20,307.98 L358.65,307.71 L359.10,307.45 L359.54,307.21 L359.99,306.98 L360.44,306.76 L360.89,306.56 L361.34,306.36 L361.79,306.18 L362.24,306.01 L362.68,305.86 L363.13,305.71 L363.58,305.57 L364.03,305.45 L364.48,305.33 L364.93,305.22 L365.37,305.12 L365.82,305.04 L366.27,304.96 L366.72,304.88 L367.17,304.82 L367.62,304.76 L368.07,304.71 L368.51,304.67 L368.96,304.64 L369.41,304.61 L369.86,304.59 L370.31,304.57 L370.76,304.56 L371.21,304.55 L371.65,304.55 L372.10,304.56 L372.55,304.57 L373.00,304.58 L373.45,304.60 L373.90,304.62 L374.34,304.65 L374.79,304.68 L375.24,304.71 L375.69,304.74 L376.14,304.78 L376.59,304.82 L377.04,304.87 L377.48,304.91 L377.93,304.96 L378.38,305.01 L378.83,305.06 L379.28,305.12 L379.73,305.17 L380.18,305.23 L380.62,305.28 L381.07,305.34 L381.52,305.40 L381.97,305.46 L382.42,305.52 L382.87,305.59 L383.31,305.65 L383.76,305.71 L384.21,305.77 L384.66,305.84 L385.11,305.90 L385.56,305.96 L386.01,306.03 L386.45,306.09 L386.90,306.15 L387.35,306.22 L387.80,306.28 L388.25,306.34 L388.70,306.40 L389.15,306.46 L389.59,306.52 L390.04,306.58 L390.49,306.64 L390.94,306.70 L391.39,306.76 L391.84,306.82 L392.28,306.87 L392.73,306.93 L393.18,306.98 L393.63,307.04 L394.08,307.09 L394.53,307.14 L394.98,307.19 L395.42,307.24 L395.87,307.29 L396.32,307.34 L396.77,307.38 L397.22,307.43 L397.67,307.47 L398.12,307.51 L398.56,307.56 L399.01,307.60 L399.46,307.64 L399.91,307.68 L400.36,307.71 L400.81,307.75 L401.25,307.78 L401.70,307.82 L402.15,307.85 L402.60,307.88 L403.05,307.91 L403.50,307.94 L403.95,307.97 L404.39,307.99 L404.84,308.02 L405.29,308.04 L405.74,308.07 L406.19,308.09 L406.64,308.11 L407.09,308.13 L407.53,308.14 L407.98,308.16 L408.43,308.18 L408.88,308.19 L409.33,308.21 L409.78,308.22 L410.22,308.23 L410.67,308.24 L411.12,308.25 L411.57,308.26 L412.02,308.26 L412.47,308.27 L412.92,308.27 L413.36,308.28 L413.81,308.28 L414.26,308.28 L414.71,308.28 L415.16,308.28 L415.61,308.28 L416.06,308.28 L416.50,308.28 L416.95,308.28 L417.40,308.27 L417.85,308.27 L418.30,308.26 L418.75,308.26 L419.19,308.25 L419.64,308.25 L420.09,308.24 L420.54,308.23 L420.99,308.22 L421.44,308.21 L421.89,308.20 L422.33,308.19 L422.78,308.18 L423.23,308.17 L423.68,308.16 L424.13,308.15 L424.58,308.14 L425.03,308.12 L425.47,308.11 L425.92,308.10 L426.37,308.09 L426.82,308.07 L427.27,308.06 L427.72,308.05 L428.16,308.03 L428.61,308.02 L429.06,308.01 L429.51,307.99 L429.96,307.98 L430.41,307.97 L430.86,307.95 L431.30,307.94 L431.75,307.93 L432.20,307.91 L432.65,307.90 L433.10,307.89 L433.55,307.87 L434.00,307.86 L434.44,307.85 L434.89,307.84 L435.34,307.82 L435.79,307.81 L436.24,307.80 L436.69,307.79 L437.13,307.78 L437.58,307.77 L438.03,307.76 L438.48,307.75 L438.93,307.74 L439.38,307.73 L439.83,307.72 L440.27,307.71 L440.72,307.70 L441.17,307.69 L441.62,307.68 L442.07,307.67 L442.52,307.66 L442.97,307.65 L443.41,307.65 L443.86,307.64 L444.31,307.63 L444.76,307.63 L445.21,307.62 L445.66,307.61 L446.10,307.61 L446.55,307.60 L447.00,307.60 L447.45,307.59 L447.90,307.58 L448.35,307.58 L448.80,307.58 L449.24,307.57 L449.69,307.57 L450.14,307.56 L450.59,307.56 L451.04,307.55 L451.49,307.55 L451.94,307.55 L452.38,307.54 L452.83,307.54 L453.28,307.54 L453.73,307.54 L454.18,307.53 L454.63,307.53 L455.07,307.53 L455.52,307.53 L455.97,307.52 L456.42,307.52 L456.87,307.52 L457.32,307.52 L457.77,307.52 L458.21,307.52 L458.66,307.51 L459.11,307.51 L459.56,307.51 L460.01,307.51 L460.46,307.51 L460.91,307.51 L461.35,307.51 L461.80,307.51 L462.25,307.51 L462.70,307.51 L463.15,307.51 L463.60,307.51 L464.04,307.50 L464.49,307.50 L464.94,307.50 L465.39,307.50 L465.84,307.50 L466.29,307.50 L466.74,307.50 L467.18,307.50 L467.63,307.50 L468.08,307.50 L468.53,307.50 L468.98,307.50 L469.43,307.50 L469.88,307.50 L470.32,307.50 L470.77,307.50 L471.22,307.50 L471.67,307.50 L472.12,307.50 L472.57,307.50 L473.01,307.50 L473.46,307.50 L473.91,307.50 L474.36,307.50 L483.33,307.51 L492.30,307.51 L501.27,307.51 L510.24,307.51 L519.21,307.51 L528.18,307.51 L537.15,307.51 L546.12,307.51 L555.09,307.51 L564.06,307.51 L573.03,307.51 L582.00,307.51 L590.97,307.51 L599.94,307.51 L608.91,307.51 L617.88,307.51 L626.85,307.51 L635.82,307.51 L644.79,307.51 L653.76,307.51 L662.73,307.51 L671.70,307.51" stroke="#000000" stroke-width="2.8"/>
<path d="M43.80,484.90 L44.25,482.77 L44.70,480.50 L45.15,478.12 L45.59,475.61 L46.04,473.01 L46.49,470.30 L46.94,467.50 L47.39,464.61 L47.84,461.65 L48.28,458.61 L48.73,455.51 L49.18,452.36 L49.63,449.15 L50.08,445.90 L50.53,442.62 L50.98,439.30 L51.42,435.96 L51.87,432.60 L52.32,429.23 L52.77,425.85 L53.22,422.47 L53.67,419.09 L54.12,415.72 L54.56,412.36 L55.01,409.03 L55.46,405.71 L55.91,402.42 L56.36,399.17 L56.81,395.95 L57.25,392.77 L57.70,389.63 L58.15,386.54 L58.60,383.49 L59.05,380.50 L59.50,377.57 L59.95,374.69 L60.39,371.88 L60.84,369.13 L61.29,366.44 L61.74,363.82 L62.19,361.27 L62.64,358.80 L63.09,356.39 L63.53,354.06 L63.98,351.80 L64.43,349.62 L64.88,347.52 L65.33,345.49 L65.78,343.55 L66.22,341.68 L66.67,339.89 L67.12,338.18 L67.57,336.55 L68.02,335.00 L68.47,333.52 L68.92,332.13 L69.36,330.82 L69.81,329.58 L70.26,328.42 L70.71,327.34 L71.16,326.33 L71.61,325.40 L72.06,324.54 L72.50,323.75 L72.95,323.04 L73.40,322.39 L73.85,321.82 L74.30,321.31 L74.75,320.87 L75.20,320.49 L75.64,320.18 L76.09,319.93 L76.54,319.74 L76.99,319.61 L77.44,319.53 L77.89,319.51 L78.33,319.54 L78.78,319.63 L79.23,319.76 L79.68,319.94 L80.13,320.17 L80.58,320.44 L81.03,320.75 L81.47,321.11 L81.92,321.50 L82.37,321.93 L82.82,322.39 L83.27,322.89 L83.72,323.42 L84.16,323.98 L84.61,324.56 L85.06,325.17 L85.51,325.81 L85.96,326.46 L86.41,327.14 L86.86,327.84 L87.30,328.55 L87.75,329.28 L88.20,330.02 L88.65,330.77 L89.10,331.54 L89.55,332.31 L90.00,333.09 L90.44,333.88 L90.89,334.67 L91.34,335.47 L91.79,336.27 L92.24,337.06 L92.69,337.86 L93.14,338.66 L93.58,339.45 L94.03,340.24 L94.48,341.02 L94.93,341.80 L95.38,342.57 L95.83,343.33 L96.27,344.08 L96.72,344.83 L97.17,345.56 L97.62,346.28 L98.07,346.99 L98.52,347.68 L98.97,348.36 L99.41,349.03 L99.86,349.68 L100.31,350.32 L100.76,350.94 L101.21,351.55 L101.66,352.14 L102.11,352.71 L102.55,353.27 L103.00,353.80 L103.45,354.32 L103.90,354.83 L104.35,355.31 L104.80,355.78 L105.24,356.23 L105.69,356.66 L106.14,357.08 L106.59,357.47 L107.04,357.85 L107.49,358.22 L107.94,358.56 L108.38,358.90 L108.83,359.21 L109.28,359.51 L109.73,359.80 L110.18,360.07 L110.63,360.33 L111.08,360.57 L111.52,360.81 L111.97,361.03 L112.42,361.24 L112.87,361.44 L113.32,361.62 L113.77,361.80 L114.21,361.97 L114.66,362.13 L115.11,362.28 L115.56,362.43 L116.01,362.56 L116.46,362.68 L116.91,362.80 L117.35,362.90 L117.80,363.00 L118.25,363.08 L118.70,363.15 L119.15,363.21 L119.60,363.26 L120.05,363.29 L120.49,363.31 L120.94,363.31 L121.39,363.30 L121.84,363.27 L122.29,363.22 L122.74,363.15 L123.18,363.06 L123.63,362.96 L124.08,362.84 L124.53,362.69 L124.98,362.53 L125.43,362.36 L125.88,362.16 L126.32,361.95 L126.77,361.72 L127.22,361.48 L127.67,361.22 L128.12,360.96 L128.57,360.68 L129.01,360.40 L129.46,360.11 L129.91,359.81 L130.36,359.52 L130.81,359.21 L131.26,358.91 L131.71,358.61 L132.15,358.32 L132.60,358.02 L133.05,357.73 L133.50,357.45 L133.95,357.17 L134.40,356.90 L134.85,356.64 L135.29,356.38 L135.74,356.13 L136.19,355.89 L136.64,355.66 L137.09,355.44 L137.54,355.23 L137.99,355.02 L138.43,354.82 L138.88,354.63 L139.33,354.45 L139.78,354.28 L140.23,354.11 L140.68,353.95 L141.12,353.80 L141.57,353.65 L142.02,353.51 L142.47,353.38 L142.92,353.25 L143.37,353.13 L143.82,353.01 L144.26,352.90 L144.71,352.80 L145.16,352.70 L145.61,352.60 L146.06,352.51 L146.51,352.43 L146.96,352.35 L147.40,352.27 L147.85,352.20 L148.30,352.13 L148.75,352.07 L149.20,352.01 L149.65,351.96 L150.09,351.91 L150.54,351.86 L150.99,351.82 L151.44,351.78 L151.89,351.75 L152.34,351.72 L152.79,351.69 L153.23,351.67 L153.68,351.65 L154.13,351.64 L154.58,351.62 L155.03,351.61 L155.48,351.61 L155.93,351.61 L156.37,351.61 L156.82,351.61 L157.27,351.62 L157.72,351.63 L158.17,351.64 L158.62,351.65 L159.06,351.67 L159.51,351.69 L159.96,351.71 L160.41,351.73 L160.86,351.76 L161.31,351.78 L161.76,351.81 L162.20,351.84 L162.65,351.87 L163.10,351.91 L163.55,351.94 L164.00,351.98 L164.45,352.02 L164.90,352.06 L165.34,352.09 L165.79,352.13 L166.24,352.18 L166.69,352.22 L167.14,352.26 L167.59,352.30 L168.03,352.35 L168.48,352.39 L168.93,352.43 L169.38,352.48 L169.83,352.52 L170.28,352.57 L170.73,352.61 L171.17,352.66 L171.62,352.70 L172.07,352.74 L172.52,352.79 L172.97,352.83 L173.42,352.87 L173.87,352.92 L174.31,352.96 L174.76,353.00 L175.21,353.04 L175.66,353.08 L176.11,353.12 L176.56,353.16 L177.00,353.20 L177.45,353.24 L177.90,353.27 L178.35,353.31 L178.80,353.34 L179.25,353.38 L179.70,353.41 L180.14,353.44 L180.59,353.47 L181.04,353.50 L181.49,353.53 L181.94,353.56 L182.39,353.59 L182.84,353.62 L183.28,353.64 L183.73,353.66 L184.18,353.69 L184.63,353.71 L185.08,353.73 L185.53,353.75 L185.97,353.77 L186.42,353.79 L186.87,353.80 L187.32,353.82 L187.77,353.84 L188.22,353.85 L188.67,353.86 L189.11,353.87 L189.56,353.88 L190.01,353.89 L190.46,353.90 L190.91,353.91 L191.36,353.92 L191.81,353.93 L192.25,353.93 L192.70,353.94 L193.15,353.94 L193.60,353.94 L194.05,353.94 L194.50,353.95 L194.94,353.95 L195.39,353.95 L195.84,353.95 L196.29,353.94 L196.74,353.94 L197.19,353.94 L197.64,353.94 L198.08,353.93 L198.53,353.93 L198.98,353.92 L199.43,353.92 L199.88,353.91 L200.33,353.91 L200.78,353.90 L201.22,353.89 L201.67,353.89 L202.12,353.88 L202.57,353.87 L203.02,353.86 L203.47,353.85 L203.91,353.84 L204.36,353.83 L204.81,353.82 L205.26,353.81 L205.71,353.80 L206.16,353.79 L206.61,353.78 L207.05,353.77 L207.50,353.76 L207.95,353.75 L208.40,353.74 L208.85,353.73 L209.30,353.72 L209.75,353.71 L210.19,353.70 L210.64,353.69 L211.09,353.68 L211.54,353.67 L211.99,353.66 L212.44,353.65 L212.88,353.64 L213.33,353.63 L213.78,353.62 L214.23,353.61 L214.68,353.60 L215.13,353.59 L215.58,353.58 L216.02,353.57 L216.47,353.56 L216.92,353.56 L217.37,353.55 L217.82,353.54 L218.27,353.53 L218.72,353.52 L219.16,353.51 L219.61,353.51 L220.06,353.50 L220.51,353.49 L220.96,353.49 L221.41,353.48 L221.85,353.47 L222.30,353.47 L222.75,353.46 L223.20,353.46 L226.79,353.42 L230.38,353.40 L233.96,353.39 L237.55,353.40 L241.14,353.41 L244.73,353.43 L248.32,353.45 L251.90,353.47 L255.49,353.48 L259.08,353.50 L262.67,353.51 L266.26,353.52 L269.84,353.52 L273.43,353.52 L277.02,353.52 L280.61,353.52 L284.20,353.52 L287.78,353.51 L291.37,353.51 L294.96,353.50 L298.55,353.50 L302.14,353.50 L305.72,353.50 L309.31,353.49 L312.90,353.49 L316.49,353.49 L320.08,353.50 L320.52,353.50 L320.97,353.50 L321.42,353.50 L321.87,353.50 L322.32,353.50 L322.77,353.50 L323.22,353.50 L323.66,353.50 L324.11,353.31 L324.56,353.08 L325.01,352.82 L325.46,352.52 L325.91,352.18 L326.36,351.80 L326.80,351.38 L327.25,350.91 L327.70,350.41 L328.15,349.86 L328.60,349.27 L329.05,348.64 L329.49,347.96 L329.94,347.24 L330.39,346.48 L330.84,345.68 L331.29,344.84 L331.74,343.96 L332.19,343.04 L332.63,342.09 L333.08,341.11 L333.53,340.09 L333.98,339.05 L334.43,337.98 L334.88,336.89 L335.33,335.77 L335.77,334.63 L336.22,333.48 L336.67,332.32 L337.12,331.14 L337.57,329.95 L338.02,328.76 L338.46,327.57 L338.91,326.38 L339.36,325.19 L339.81,324.00 L340.26,322.82 L340.71,321.65 L341.16,320.49 L341.60,319.35 L342.05,318.22 L342.50,317.11 L342.95,316.02 L343.40,314.95 L343.85,313.90 L344.30,312.88 L344.74,311.88 L345.19,310.91 L345.64,309.97 L346.09,309.06 L346.54,308.17 L346.99,307.31 L347.43,306.49 L347.88,305.69 L348.33,304.93 L348.78,304.20 L349.23,303.50 L349.68,302.83 L350.13,302.20 L350.57,301.59 L351.02,301.02 L351.47,300.48 L351.92,299.97 L352.37,299.49 L352.82,299.05 L353.27,298.63 L353.71,298.24 L354.16,297.88 L354.61,297.55 L355.06,297.25 L355.51,296.98 L355.96,296.73 L356.40,296.51 L356.85,296.32 L357.30,296.15 L357.75,296.00 L358.20,295.88 L358.65,295.79 L359.10,295.71 L359.54,295.66 L359.99,295.63 L360.44,295.61 L360.89,295.62 L361.34,295.65 L361.79,295.69 L362.24,295.75 L362.68,295.83 L363.13,295.93 L363.58,296.04 L364.03,296.16 L364.48,296.30 L364.93,296.45 L365.37,296.61 L365.82,296.79 L366.27,296.97 L366.72,297.17 L367.17,297.37 L367.62,297.59 L368.07,297.81 L368.51,298.04 L368.96,298.28 L369.41,298.52 L369.86,298.77 L370.31,299.03 L370.76,299.29 L371.21,299.55 L371.65,299.82 L372.10,300.09 L372.55,300.37 L373.00,300.64 L373.45,300.92 L373.90,301.20 L374.34,301.48 L374.79,301.76 L375.24,302.04 L375.69,302.32 L376.14,302.60 L376.59,302.87 L377.04,303.15 L377.48,303.42 L377.93,303.69 L378.38,303.95 L378.83,304.22 L379.28,304.48 L379.73,304.73 L380.18,304.99 L380.62,305.23 L381.07,305.48 L381.52,305.71 L381.97,305.95 L382.42,306.18 L382.87,306.40 L383.31,306.62 L383.76,306.83 L384.21,307.03 L384.66,307.23 L385.11,307.43 L385.56,307.61 L386.01,307.80 L386.45,307.97 L386.90,308.14 L387.35,308.30 L387.80,308.46 L388.25,308.61 L388.70,308.75 L389.15,308.88 L389.59,309.01 L390.04,309.14 L390.49,309.25 L390.94,309.36 L391.39,309.47 L391.84,309.56 L392.28,309.65 L392.73,309.74 L393.18,309.82 L393.63,309.89 L394.08,309.95 L394.53,310.01 L394.98,310.07 L395.42,310.12 L395.87,310.16 L396.32,310.20 L396.77,310.23 L397.22,310.26 L397.67,310.28 L398.12,310.30 L398.56,310.31 L399.01,310.31 L399.46,310.32 L399.91,310.32 L400.36,310.31 L400.81,310.30 L401.25,310.29 L401.70,310.27 L402.15,310.25 L402.60,310.22 L403.05,310.19 L403.50,310.16 L403.95,310.12 L404.39,310.09 L404.84,310.05 L405.29,310.00 L405.74,309.96 L406.19,309.91 L406.64,309.86 L407.09,309.81 L407.53,309.75 L407.98,309.70 L408.43,309.64 L408.88,309.58 L409.33,309.52 L409.78,309.46 L410.22,309.40 L410.67,309.34 L411.12,309.27 L411.57,309.21 L412.02,309.14 L412.47,309.08 L412.92,309.01 L413.36,308.95 L413.81,308.88 L414.26,308.81 L414.71,308.75 L415.16,308.68 L415.61,308.62 L416.06,308.55 L416.50,308.49 L416.95,308.43 L417.40,308.36 L417.85,308.30 L418.30,308.24 L418.75,308.18 L419.19,308.12 L419.64,308.06 L420.09,308.00 L420.54,307.95 L420.99,307.89 L421.44,307.84 L421.89,307.78 L422.33,307.73 L422.78,307.68 L423.23,307.63 L423.68,307.59 L424.13,307.54 L424.58,307.49 L425.03,307.45 L425.47,307.41 L425.92,307.37 L426.37,307.33 L426.82,307.29 L427.27,307.26 L427.72,307.22 L428.16,307.19 L428.61,307.16 L429.06,307.13 L429.51,307.10 L429.96,307.08 L430.41,307.05 L430.86,307.03 L431.30,307.01 L431.75,306.99 L432.20,306.97 L432.65,306.95 L433.10,306.94 L433.55,306.92 L434.00,306.91 L434.44,306.90 L434.89,306.89 L435.34,306.88 L435.79,306.87 L436.24,306.86 L436.69,306.86 L437.13,306.85 L437.58,306.85 L438.03,306.85 L438.48,306.85 L438.93,306.85 L439.38,306.85 L439.83,306.85 L440.27,306.85 L440.72,306.86 L441.17,306.86 L441.62,306.87 L442.07,306.88 L442.52,306.88 L442.97,306.89 L443.41,306.90 L443.86,306.91 L444.31,306.92 L444.76,306.93 L445.21,306.94 L445.66,306.95 L446.10,306.97 L446.55,306.98 L447.00,306.99 L447.45,307.00 L447.90,307.02 L448.35,307.03 L448.80,307.05 L449.24,307.06 L449.69,307.08 L450.14,307.09 L450.59,307.11 L451.04,307.12 L451.49,307.14 L451.94,307.15 L452.38,307.17 L452.83,307.18 L453.28,307.20 L453.73,307.21 L454.18,307.23 L454.63,307.25 L455.07,307.26 L455.52,307.28 L455.97,307.29 L456.42,307.31 L456.87,307.32 L457.32,307.34 L457.77,307.35 L458.21,307.36 L458.66,307.38 L459.11,307.39 L459.56,307.40 L460.01,307.42 L460.46,307.43 L460.91,307.44 L461.35,307.46 L461.80,307.47 L462.25,307.48 L462.70,307.49 L463.15,307.50 L463.60,307.51 L464.04,307.52 L464.49,307.53 L464.94,307.54 L465.39,307.55 L465.84,307.56 L466.29,307.57 L466.74,307.58 L467.18,307.58 L467.63,307.59 L468.08,307.60 L468.53,307.60 L468.98,307.61 L469.43,307.62 L469.88,307.62 L470.32,307.63 L470.77,307.63 L471.22,307.64 L471.67,307.64 L472.12,307.64 L472.57,307.65 L473.01,307.65 L473.46,307.65 L473.91,307.66 L474.36,307.66 L483.33,307.65 L492.30,307.58 L501.27,307.52 L510.24,307.48 L519.21,307.47 L528.18,307.49 L537.15,307.50 L546.12,307.51 L555.09,307.52 L564.06,307.52 L573.03,307.51 L582.00,307.51 L590.97,307.51 L599.94,307.51 L608.91,307.51 L617.88,307.51 L626.85,307.51 L635.82,307.51 L644.79,307.51 L653.76,307.51 L662.73,307.51 L671.70,307.51" stroke="#000000" stroke-width="2.8" stroke-dasharray="14.3 8.9" stroke-dashoffset="4"/>
</g>
<path d="M45.40,110.40 V110.40 H198.40 V11.70 H45.40 V110.40" fill="none" stroke="#14703f" stroke-width="3" stroke-dasharray="11.600 3.000 5.600 3.000" stroke-linejoin="miter"/>
<path d="M309.45,108.25 V117.70 H465.50 V27.10 H309.45 V108.25" fill="none" stroke="#14703f" stroke-width="3" stroke-dasharray="11.600 3.000 5.600 3.000" stroke-linejoin="miter"/>
<path d="M45.40,399.60 V399.60 H198.40 V301.10 H45.40 V399.60" fill="none" stroke="#14703f" stroke-width="3" stroke-dasharray="11.600 3.000 5.600 3.000" stroke-linejoin="miter"/>
<path d="M309.60,366.30 V366.30 H465.50 V287.60 H309.60 V366.30" fill="none" stroke="#14703f" stroke-width="3" stroke-dasharray="11.565 2.991 5.583 2.991" stroke-linejoin="miter"/>
<text x="104.4" y="140.4" class="bb" text-anchor="middle">A</text>
<text x="400" y="140.4" class="bb" text-anchor="middle">B</text>
<text x="104.9" y="426.2" class="bb" text-anchor="middle">C</text>
<text x="400.5" y="406.5" class="bb" text-anchor="middle">D</text>
<text transform="translate(13.4,104.6) rotate(-90)" class="lb" text-anchor="middle">Process Output</text>
<text transform="translate(13.4,381.5) rotate(-90)" class="lb" text-anchor="middle">Control Signal (<tspan font-style="italic">%</tspan>)</text>
<text x="357.2" y="533.2" class="lb" text-anchor="middle">Time (s)</text>
<rect x="514.3" y="12.3" width="141.4" height="148.5" fill="#fff" stroke="#606060" stroke-width="1.2"/>
<path d="M519.8,26.50 H577.8" stroke="#0000ff" stroke-width="2.8" fill="none"/>
<text x="582" y="33.50" class="lg">Setpoint</text>
<path d="M519.8,50.45 H577.8" stroke="#ff0000" stroke-width="2.8" fill="none" stroke-dasharray="1.8 4"/>
<text x="582" y="57.45" class="lg">PI</text>
<path d="M519.8,74.40 H577.8" stroke="#00ff00" stroke-width="2.8" fill="none" stroke-dasharray="14.3 8.9"/>
<text x="582" y="81.40" class="lg">FOPI</text>
<path d="M519.8,98.35 H577.8" stroke="#ff00ff" stroke-width="2.8" fill="none" stroke-dasharray="11.5 4.2 3.3 4.2"/>
<text x="582" y="105.35" class="lg">PPI</text>
<path d="M519.8,122.30 H577.8" stroke="#000" stroke-width="2.8" fill="none"/>
<text x="582" y="129.30" class="lg">FOPPI</text>
<path d="M519.8,146.25 H577.8" stroke="#000" stroke-width="2.8" fill="none" stroke-dasharray="14.3 8.9"/>
<text x="582" y="153.25" class="lg">Wireless</text>
</svg></body></html>
